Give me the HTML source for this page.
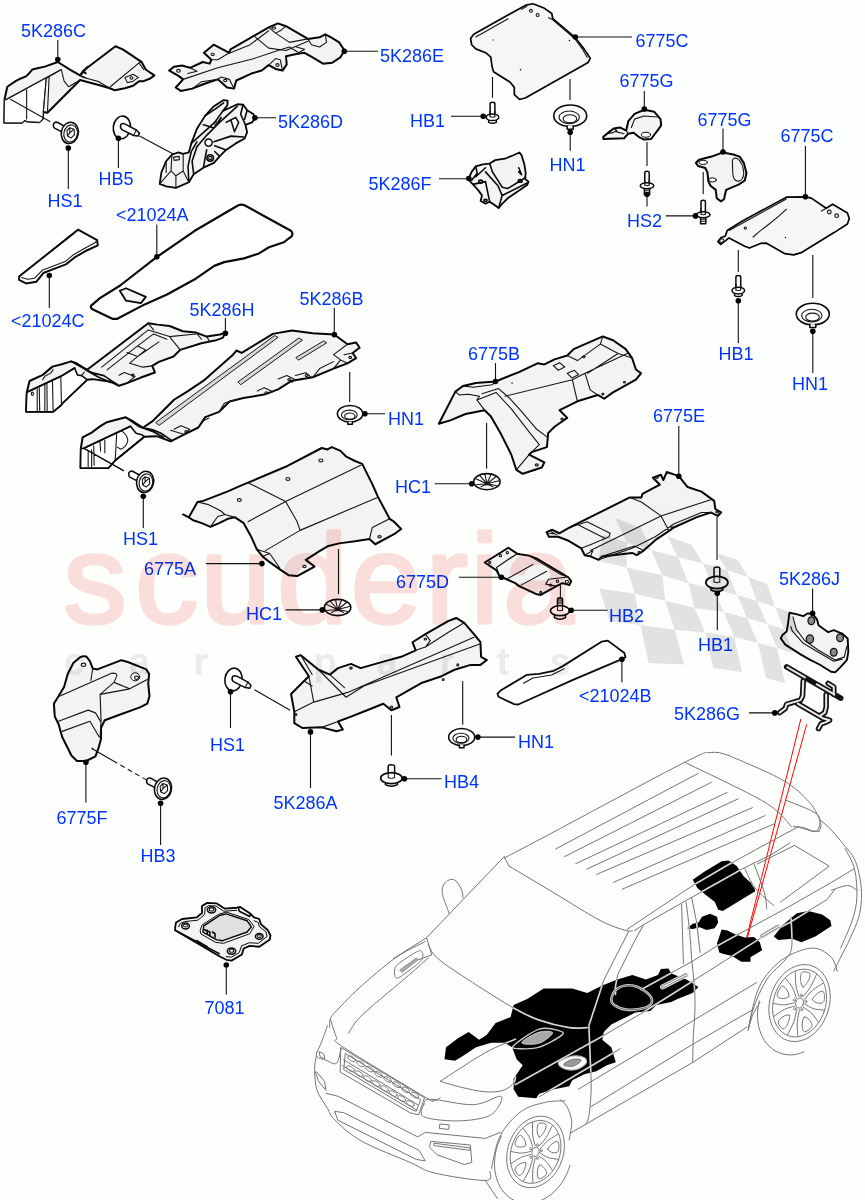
<!DOCTYPE html>
<html><head><meta charset="utf-8"><title>Body Insulators - Heat Shields</title>
<style>
html,body{margin:0;padding:0;background:#fdfffd;}
body{width:865px;height:1200px;overflow:hidden;}
svg{display:block;}
.lb{font-family:"Liberation Sans",Arial,sans-serif;font-size:18px;fill:#0033ff;}
.ln{stroke:#111;stroke-width:1.1;fill:none;}
.dot{fill:#000;}
.p{fill:#f3f3f3;stroke:#050505;stroke-width:2.0;stroke-linejoin:round;stroke-linecap:round;vector-effect:non-scaling-stroke;}
.pw{fill:#fff;stroke:#0a0a0a;stroke-width:1.5;stroke-linejoin:round;stroke-linecap:round;vector-effect:non-scaling-stroke;}
.t{fill:none;stroke:#151515;stroke-width:1.1;stroke-linejoin:round;stroke-linecap:round;vector-effect:non-scaling-stroke;}
.k{fill:none;stroke:#0a0a0a;stroke-width:1.6;stroke-linejoin:round;stroke-linecap:round;vector-effect:non-scaling-stroke;}
.car{fill:none;stroke:#757575;stroke-width:1;stroke-linejoin:round;stroke-linecap:round;vector-effect:non-scaling-stroke;}
.carw{fill:#fff;stroke:#8a8a8a;stroke-width:0.9;stroke-linejoin:round;stroke-linecap:round;vector-effect:non-scaling-stroke;}
.blk{fill:#000;stroke:none;}
.carl{fill:none;stroke:#d4d4d4;stroke-width:1.7;stroke-linejoin:round;stroke-linecap:round;}
</style></head><body>
<svg width="865" height="1200" viewBox="0 0 865 1200">
<rect width="865" height="1200" fill="#fdfffd"/>
<g id="partC" transform="translate(0 15) scale(0.20809)">
<path class="p" d="M20,518 L22,405 L35,345 L75,318 L100,305 L125,295 L140,280 L155,262 L185,255 L215,248 L278,226 L340,265 L385,290 L400,268 L555,150 L590,165 L680,225 L700,262 L742,290 L722,305 L690,318 L668,318 L640,340 L600,352 L552,362 L528,352 L470,335 L420,322 L385,312 L228,470 L208,466 L205,500 L190,515 L130,512 L120,505 L105,518 Z"/>
<path class="pw" d="M30,408 L292,264 L222,306 L208,466 L205,500 L190,515 L130,512 L120,505 L105,518 L20,518 L22,408 Z" style="stroke-width:0.8"/>
<path class="t" d="M30,405 L292,263 M222,305 L208,466 M236,298 L228,470 M295,262 L308,318 L330,345 L385,312 M340,265 L400,300 L470,318 L528,352 M385,290 L420,305 L480,322 M530,345 L668,230 L680,225 M668,230 L690,262 M600,300 L640,285 L665,300 L640,318 L612,325 Z M128,360 L128,500"/>
<ellipse class="t" cx="632" cy="303" rx="7" ry="6"/>
<path class="k" d="M385,290 L420,250 M400,272 L412,280" style="stroke-width:2"/>
<path class="t" d="M50,405 L240,512"/>
</g>
<g id="boltsC"><g transform="translate(69.8 132.9)"><path class="pw" d="M-16,-9.5 Q-17.2,-7 -15.3,-4.8 L-6,0 L-2.8,-5.2 L-12,-10.4 Q-14.6,-11.5 -16,-9.5Z"/><ellipse class="pw" cx="0" cy="0" rx="8.5" ry="10.7" transform="rotate(12)" style="stroke-width:1.6"/><ellipse class="t" cx="0.9" cy="0.4" rx="6.7" ry="8.7" transform="rotate(12)"/><path class="t" d="M-2.8,-2.4 L0,-5.2 L4.3,-3.7 L4.6,1.9 L1.3,5 L-2.4,3.1 Z M-2.4,3.1 L0,0 L4.3,-3.7 M0,0 L0,-5.2"/></g><g transform="translate(121.9 127.4)"><ellipse class="pw" cx="0" cy="0" rx="8.6" ry="11.4" transform="rotate(8)" style="stroke-width:1.6"/><path class="pw" d="M-0.9,-3 Q-2.4,0 0,2.2 L11.7,8.1 L16.3,8.7 L17.6,5.9 L14.4,2.6 L3.3,-3.3 Q0.55,-4.4 -0.9,-3 Z"/><path class="t" d="M11.7,8.1 L14.4,2.6"/></g><path class="ln" d="M139.5,136 L176,155.5"/></g>
<g id="partE" transform="translate(160 10) scale(0.23121)">
<path class="p" d="M40,262 L60,245 L95,240 L130,250 L185,225 L215,232 L222,215 L190,185 L232,150 L300,185 L305,170 L470,75 L510,58 L545,70 L640,125 L690,118 L715,105 L740,118 L775,140 L798,175 L780,205 L745,228 L705,232 L660,205 L625,185 L590,190 L545,200 L548,235 L530,262 L500,255 L470,238 L440,262 L395,275 L330,305 L320,340 L290,335 L250,300 L190,320 L140,340 L90,350 L68,335 L100,300 L80,285 Z"/>
<path class="t" d="M130,250 L160,265 L120,275 M300,185 L250,215 L222,215 M305,185 L390,150 L470,90 M410,115 L470,165 L545,175 L640,135 M100,300 L250,250 L400,212 L520,172 L560,160 M470,75 L500,100 L520,90 L545,70 M500,100 L560,140 L640,125 M250,300 L265,290 L300,300 L320,340 M470,238 L500,210 L520,215 L530,262 M560,160 L600,185 L625,170 L590,160 M640,125 L655,150 L690,160 L720,140 L715,105 M140,340 L180,310 L250,300"/>
<ellipse class="t" cx="80" cy="263" rx="8" ry="6"/><ellipse class="t" cx="228" cy="192" rx="7" ry="5"/><ellipse class="t" cx="492" cy="78" rx="8" ry="5"/><ellipse class="t" cx="282" cy="305" rx="7" ry="5"/><ellipse class="t" cx="508" cy="238" rx="7" ry="6"/>
</g>
<g id="partD" transform="translate(150 90) scale(0.16185)">
<path class="p" d="M60,580 L70,510 L100,440 L135,400 L175,385 L205,395 L240,385 L255,330 L290,240 L340,160 L395,100 L455,62 L480,65 L478,95 L450,130 L540,88 L575,90 L600,125 L640,150 L650,175 L630,200 L590,215 L600,260 L585,300 L530,330 L470,370 L430,410 L395,450 L330,480 L270,520 L240,570 L160,605 L100,595 Z" style="stroke-width:1.8"/>
<path class="k" d="M255,330 L300,290 L400,200 L450,130 M270,520 L260,440 L290,350 L350,280 L430,200 L540,100 M330,215 L395,235 L440,170 M340,160 L400,120 L455,80 M240,570 L235,470 L255,380 L290,320 M395,320 L500,285 L580,290 M400,345 L470,370 M350,370 L330,480 M430,410 L400,380"/>
<circle class="pw" cx="362" cy="325" r="22"/><circle class="k" cx="372" cy="420" r="20"/><circle class="t" cx="372" cy="420" r="10"/><circle class="t" cx="408" cy="205" r="9"/>
<path class="pw" d="M500,185 L522,258 L548,200 L530,170 Z"/>
<path class="k" d="M575,90 L560,150 L590,215 M600,125 L585,180 M470,200 L500,185"/>
<path class="t" d="M135,400 L130,500 L60,580 M130,500 L160,530 L205,500 L205,395 M160,530 L160,605 M100,440 L100,510 M205,500 L240,570 M145,415 L180,410 L182,430 L150,435 Z"/>
</g>
<g id="matA" transform="translate(85 200) scale(0.24855)">
<path class="pw" d="M25,425 L60,395 L140,345 L288,230 L440,125 L610,25 Q625,15 640,20 L830,125 Q838,135 832,145 L800,170 L740,190 L700,215 L640,235 L560,250 L520,265 L440,320 L330,380 L240,420 L130,478 L110,478 L30,440 Q20,432 25,425 Z" style="stroke-width:2.2"/>
<path class="p" d="M140,365 L165,355 L245,390 L225,415 L165,405 Z" style="stroke-width:1.8"/>
</g>
<g id="matC" transform="translate(0 195) scale(0.34682)">
<path class="pw" d="M55,235 L200,120 L225,100 L280,130 L282,145 L250,160 L215,180 L190,200 L150,215 L125,225 L105,250 L75,255 L55,245 Z" style="stroke-width:2"/>
<path class="t" d="M62,238 L80,243 L100,240 L122,217 L148,207 L188,192 L212,172 L247,152 L275,137 M275,137 L280,130"/>
</g>
<g id="partH" transform="translate(10 310) scale(0.26590)">
<path class="p" d="M60.5,382.6 L63.2,309.5 L73.6,267 L123.2,244 L159.7,213 L191,205 L230.1,193.2 L248.4,200 L290,225 L520,50 L555,55 L600,60 L650,80 L700,85 L740,100 L790,92 L810,85 L800,105 L770,115 L720,125 L640,150 L615,175 L560,195 L535,210 L545,235 L490,255 L440,275 L410,285 L380,270 L310,260 L290,262 L198.8,348.7 L191,359.1 L162.3,382.6 Z"/>
<path class="pw" d="M63.2,309.5 L191,249.5 L243.2,218.2 L253.6,244.3 L269.3,246.9 L290,262 L198.8,348.7 L191,359.1 L162.3,382.6 L60.5,382.6 Z" style="stroke-width:1.6"/>
<path class="t" d="M102.3,296.5 L102.3,380 M110.1,292.3 L111.7,380 M131,280.9 L131,380 M138.8,278.2 L139.9,380 M159.7,267.8 L162.3,382.6 M191,249.5 L193.6,356.5 M123.2,262.6 L131,249.5 L154.5,236.5 L162.3,223.5 M269.3,246.9 L279.7,233.9"/>
<path class="k" d="M230.1,193.2 L269.3,215.6 L311,236.5 L352.8,246.9 L384.1,267.8 L404.9,280.9 M248.4,200 L290.1,228.7 L331.9,252.2 L378.8,273 M63.2,309.5 L191,249.5 L243.2,218.2"/>
<path class="t" d="M345,215 L520,75 L600,100 L700,90 M520,50 L540,75 M600,100 L640,150 M365,225 L480,135 L510,150 L450,200 L500,215 L535,210 M440,160 L480,175 L560,120 M410,245 L430,235 L470,250 L440,275 M700,85 L720,110 M740,100 L750,118 M480,135 L540,90 L590,110"/>
<ellipse class="t" cx="462" cy="245" rx="5" ry="4"/><ellipse class="t" cx="84" cy="315" rx="4" ry="6"/>
</g>
<g id="partB" transform="translate(70 320) scale(0.34682)">
<path class="p" d="M30.4,426.6 L31.2,370.6 L36.4,338.6 L62.4,324.6 L86.4,306.6 L106.4,294.6 L130.4,288.6 L160.4,280.6 L182.4,292.6 L210.4,310.6 L240,290 L300,230 L340,205 L385,175 L470,100 L480,88 L495,95 L585,40 L640,30 L700,38 L762,42 L800,70 L825,65 L835,80 L815,95 L825,110 L800,125 L760,140 L700,165 L640,175 L600,200 L560,215 L500,225 L460,235 L430,265 L390,280 L370,310 L330,330 L290,350 L250,335 L214.4,336.6 L130.4,404.6 L110.4,426.6 Z"/>
<path class="pw" d="M38.4,370.6 L174.4,306.6 L190.4,326.6 L206.4,330.6 L214.4,336.6 L130.4,404.6 L110.4,426.6 L30.4,426.6 L31.2,370.6 Z" style="stroke-width:1.6"/>
<path class="t" d="M52.4,378.6 L52.4,422.6 M62.4,374.6 L62.4,422.6 M68.4,362.6 L69.6,418.6 M86.4,350.6 L88.4,378.6 M100.4,346.6 L100.4,382.6 M134.4,330.6 L130.4,402.6 M150.4,320.6 Q168,335 166.4,350.6 Q160,368 146.4,372.6 L136.4,366.6 M40.4,370.6 L154.4,434.6"/>
<path class="k" d="M210.4,310.6 L238.4,316.6 L262.4,326.6 L286.4,342.6 L294.4,348.6 M160.4,280.6 L200,308 L240,322 L270,338 M38.4,370.6 L174.4,306.6 M130.4,404.6 L214.4,336.6"/>
<path class="p" d="M248,295 L590,45 L600,50 L258,303 Z M485,178 L660,52 L670,58 L493,186 Z M652,108 L732,60 L740,66 L660,115 Z" style="stroke-width:0.9;fill:#d8d8d8"/>
<path class="t" d="M290,318 L330,330 M300,315 L320,305 L345,315 L330,330 M540,205 L560,195 L585,207 L560,215 M600,170 L625,160 L650,172 L640,180 M650,160 L680,152 L695,165 M760,140 L780,115 L800,125 M780,115 L760,100 L800,70 M790,100 L815,95 M430,265 L445,240 L470,232 M370,310 L385,290 L400,283 M700,165 L720,140 L760,120"/>
<ellipse class="t" cx="335" cy="322" rx="4" ry="3"/><ellipse class="t" cx="566" cy="210" rx="4" ry="3"/><ellipse class="t" cx="632" cy="172" rx="4" ry="3"/><ellipse class="t" cx="682" cy="160" rx="4" ry="3"/><ellipse class="t" cx="808" cy="108" rx="4" ry="3"/>
</g>
<g id="partA" transform="translate(170 435) scale(0.28902)">
<path class="p" d="M45,275 L65,285 L95,232 L115,228 L200,195 L245,175 L270,165 L400,110 L525,45 L545,50 L560,42 L590,55 L610,75 L640,90 L665,100 L700,170 L720,215 L760,290 L775,300 L800,325 L780,340 L710,378 L690,360 L640,368 L585,375 L545,385 L520,400 L470,432 L500,455 L440,488 L410,485 L380,465 L345,440 L320,420 L300,395 L280,350 L255,305 L225,285 L200,290 L170,305 L140,318 L110,305 L80,295 L65,285 Z"/>
<path class="t" d="M95,232 L130,240 L175,262 L190,275 L165,282 L140,318 M190,275 L225,285 M270,165 L400,230 L440,300 L450,330 M270,300 L400,230 L660,105 M330,400 L450,330 L720,215 M320,420 L345,410 L380,460 M345,410 L300,395 M520,400 L545,385 M760,290 L700,320 L690,360"/>
<ellipse class="t" cx="240" cy="225" rx="7" ry="5"/><ellipse class="t" cx="408" cy="152" rx="7" ry="5"/><ellipse class="t" cx="522" cy="88" rx="7" ry="5"/><ellipse class="t" cx="725" cy="352" rx="6" ry="4"/><ellipse class="t" cx="465" cy="455" rx="6" ry="4"/>
</g>
<g id="part6775B" transform="translate(435 325) scale(0.25434)">
<path class="p" d="M15,388 L80,262 L110,240 L160,228 L238,222 L330,185 L405,150 L430,155 L470,135 L520,120 L545,95 L660,45 L700,60 L750,95 L775,130 L790,175 L810,190 L790,215 L700,265 L665,290 L640,275 L560,300 L490,335 L520,365 L470,400 L445,425 L440,480 L410,490 L380,500 L370,510 L430,540 L420,560 L345,585 L320,570 L300,510 L260,430 L220,360 L195,335 L120,350 L60,375 Z"/>
<path class="k" d="M80,262 L95,275 L130,272 L175,280 L165,295 L195,335 M110,240 L150,245 L225,235 L238,222" style="stroke-width:1.1"/>
<path class="t" d="M165,295 L240,265 L300,330 L370,420 L410,470 L380,500 M185,270 L250,250 L290,285 L340,340 L400,410 L440,440 M275,280 L540,215 L590,190 L760,110 M540,215 L555,280 L560,300 M590,190 L610,255 L640,275 M520,120 L560,140 L650,75 L720,112 L600,190 M660,45 L650,75 M720,112 L775,130 M465,160 L490,148 L510,165 L485,178 Z M520,190 L548,178 L565,195 L538,208 Z M320,570 L370,510"/>
<ellipse class="t" cx="585" cy="125" rx="5" ry="4"/><ellipse class="t" cx="745" cy="225" rx="4" ry="3"/><ellipse class="t" cx="660" cy="272" rx="4" ry="3"/><ellipse class="t" cx="500" cy="370" rx="5" ry="4"/><ellipse class="t" cx="400" cy="550" rx="6" ry="4"/><circle class="dot" cx="303" cy="228" r="3"/>
</g>
<g id="part6775E" transform="translate(535 435) scale(0.23121)">
<path class="p" d="M50,420 L75,410 L105,425 L150,400 L200,375 L410,270 L460,270 L465,255 L540,215 L510,185 L545,172 L555,195 L570,160 L622,178 L660,225 L720,245 L775,285 L780,320 L805,335 L790,350 L760,335 L700,355 L600,400 L580,415 L520,455 L470,500 L440,520 L420,510 L290,525 L275,540 L240,525 L215,520 L200,490 L140,455 L100,440 L60,440 Z"/>
<path class="t" d="M240,500 L545,350 L760,280 M410,270 L460,290 L545,350 L580,415 M150,400 L225,375 L325,425 L320,440 L250,470 L200,490 M190,390 L300,445 M275,540 L420,490 L520,440 L600,385 L720,335 L760,335 M240,525 L250,500 L215,520 M290,525 L430,480 L470,500 M60,425 L90,428 M70,418 L95,432"/>
<ellipse class="t" cx="527" cy="184" rx="6" ry="4"/><ellipse class="t" cx="788" cy="333" rx="6" ry="4"/><ellipse class="t" cx="450" cy="508" rx="5" ry="4"/><ellipse class="t" cx="592" cy="400" rx="4" ry="3"/>
</g>
<g id="part6775D" transform="translate(470 535) scale(0.19653)">
<path class="p" d="M75,140 L195,65 L240,95 L255,98 L300,105 L340,120 L500,215 L515,235 L505,255 L470,245 L440,260 L360,305 L335,300 L250,260 L230,245 L175,220 L150,210 L135,180 Z"/>
<path class="t" d="M240,95 L135,165 L150,210 M215,110 L135,165 M320,150 L185,225 M390,185 L260,255 M300,105 L460,200 L500,215 M400,225 L385,250 L440,260 M400,225 L490,215"/>
<circle class="t" cx="155" cy="105" r="6"/><circle class="t" cx="190" cy="90" r="6"/><circle class="t" cx="100" cy="140" r="5"/><circle class="t" cx="410" cy="255" r="6"/><circle class="t" cx="445" cy="235" r="6"/><circle class="t" cx="360" cy="292" r="5"/><circle class="t" cx="493" cy="238" r="8"/>
</g>
<g id="part5K286A" transform="translate(215 605) scale(0.32370)">
<path class="p" d="M235,275 L275,235 L290,220 L250,160 L265,155 L320,200 L355,215 L380,195 L420,182 L450,195 L520,175 L575,160 L620,140 L610,115 L650,90 L720,50 L745,40 L770,55 L800,90 L820,115 L822,160 L840,170 L820,185 L790,185 L740,200 L700,220 L640,240 L560,285 L570,315 L545,325 L520,305 L470,325 L420,345 L380,360 L395,385 L375,390 L330,378 L270,380 L245,365 L245,330 Z"/>
<path class="t" d="M290,220 L305,300 L245,330 M305,300 L410,270 L800,100 M320,200 L405,285 L460,250 L820,120 M355,215 L400,255 M620,140 L650,130 L720,85 L770,55 M650,90 L665,110 L650,130 M380,360 L330,378 M275,235 L300,250 M265,155 L300,215"/>
<ellipse class="t" cx="650" cy="105" rx="4" ry="3"/><ellipse class="t" cx="420" cy="195" rx="4" ry="3"/><ellipse class="t" cx="750" cy="185" rx="3" ry="3"/><ellipse class="t" cx="705" cy="230" rx="3" ry="3"/><ellipse class="t" cx="545" cy="315" rx="4" ry="3"/><ellipse class="t" cx="250" cy="338" rx="3" ry="3"/>
</g>
<g id="part6775F" transform="translate(40 650) scale(0.18497)">
<path class="p" d="M215,40 Q235,30 250,35 L270,60 L285,100 L310,105 L440,55 L475,65 L575,105 L590,130 L585,180 L592,250 L580,290 L540,310 L430,350 L350,380 L330,420 L330,480 L318,525 L300,575 L250,600 L200,600 L170,570 L120,470 L100,400 L80,360 L75,290 L100,250 L130,200 L150,130 L180,70 Z"/>
<path class="t" d="M285,100 L275,165 M105,250 L390,125 Q420,125 415,140 L400,175 L325,240 L330,380 L325,470 M400,175 L485,210 L580,160 M325,240 L485,210 M100,385 L260,325 L300,340 L330,390 M120,440 L270,385 L320,470"/>
<ellipse class="t" cx="235" cy="80" rx="12" ry="9"/><ellipse class="pw" cx="515" cy="145" rx="24" ry="22" style="stroke-width:1"/><ellipse class="t" cx="522" cy="150" rx="11" ry="9"/>
<circle class="dot" cx="283" cy="533" r="5"/>
</g>
<g id="part7081" transform="translate(150 880) scale(0.17341)">
<path class="p" d="M145,275 L150,245 L185,225 L270,215 L300,190 L300,150 L330,132 L385,135 L430,165 L500,160 L520,155 L580,195 L600,215 L630,225 L640,255 L680,290 L695,320 L690,345 L630,385 L575,380 L540,395 L530,430 L470,465 L440,460 L400,440 L145,290 Z" style="stroke-width:1.8"/>
<path class="k" d="M165,270 L175,250 L200,240 L275,232 L315,200 L318,160 L338,148 L380,150 L425,180 L500,175 M600,235 L625,245 L630,268 L670,300 L675,325 L625,365 L572,362 L528,380 L515,418 L470,445 L440,442" style="stroke-width:1"/>
<path class="p" d="M310,265 L400,205 L440,195 L560,235 L585,270 L560,300 L420,350 L385,345 L305,300 Z" style="stroke-width:1.4;fill:#e0e0e0"/>
<path class="k" d="M290,290 L300,260 L395,198 L440,185 L570,228 L600,268 L575,310 L425,365 L380,360 L295,312 Z" style="stroke-width:1"/>
<path class="k" d="M310,285 L345,300 L345,320 M330,290 L330,310 M360,300 L375,310 L375,330 M510,160 L515,180 L575,210 L580,195 M145,290 L400,425 M330,385 L270,350"/>
<ellipse class="pw" cx="355" cy="172" rx="24" ry="18"/><ellipse class="t" cx="355" cy="170" rx="13" ry="9"/>
<ellipse class="pw" cx="205" cy="265" rx="22" ry="17"/><ellipse class="t" cx="205" cy="263" rx="12" ry="8"/>
<ellipse class="pw" cx="630" cy="325" rx="22" ry="17"/><ellipse class="t" cx="630" cy="323" rx="12" ry="8"/>
<ellipse class="pw" cx="470" cy="410" rx="24" ry="18"/><ellipse class="t" cx="470" cy="408" rx="13" ry="9"/>
</g>
<g id="part6775Ctop" transform="translate(455 0) scale(0.20809)">
<path class="p" d="M75,185 L90,165 L250,75 L340,25 L375,18 L430,40 L465,65 L470,90 L575,178 L620,235 L650,280 L640,300 L340,470 L310,478 L285,455 L285,420 L265,395 L185,345 L178,320 L172,275 L150,255 L100,235 L80,215 Z" style="fill:#f6f6f6;stroke-width:1.7"/>
<path class="t" d="M100,178 L255,90 M320,45 L345,30 M450,85 L470,95 L575,185 L615,240 L635,275"/>
<circle class="t" cx="365" cy="52" r="7"/><circle class="t" cx="397" cy="72" r="7"/>
<circle class="dot" cx="183" cy="192" r="3"/><circle class="dot" cx="550" cy="195" r="3.5"/><circle class="dot" cx="315" cy="335" r="4"/>
</g>
<g id="part6775G" transform="translate(595 90) scale(0.20809)">
<path class="p" d="M40,225 L70,200 L90,185 L120,180 L150,195 L160,150 L190,115 L237,95 L285,105 L315,140 L318,170 L300,195 L285,215 L270,235 L235,238 L210,225 L185,205 L160,210 L140,232 L40,235 Z"/>
<path class="t" d="M175,180 L190,140 L235,125 L300,130 M90,185 L105,195 L85,205 L60,210 M150,195 L160,210 M100,200 L140,210"/>
<ellipse class="pw" cx="245" cy="215" rx="22" ry="12" style="stroke-width:1"/>
<path class="p" d="M485,350 L500,335 L560,320 L615,300 L665,310 L695,320 L715,350 L728,400 L720,435 L690,455 L630,480 L620,525 L605,535 L585,520 L580,480 L555,460 L545,440 L540,395 L530,375 L495,365 Z"/>
<path class="t" d="M660,340 Q665,322 685,330 Q712,350 715,400 Q712,435 690,438 Q665,440 662,400 Z"/>
<ellipse class="pw" cx="520" cy="348" rx="20" ry="10" style="stroke-width:1"/><ellipse class="pw" cx="565" cy="432" rx="18" ry="10" style="stroke-width:1"/>
</g>
<g id="part6775Cright" transform="translate(705 175) scale(0.18497)">
<path class="p" d="M70,360 L85,340 L110,330 L120,300 L200,250 L440,120 L543,118 L575,125 L655,180 L690,158 L770,205 L780,235 L770,265 L700,310 L520,420 L480,432 L430,425 L330,368 L300,370 L240,395 L215,385 L130,340 L105,360 L85,375 Z" style="fill:#f6f6f6;stroke-width:1.7"/>
<path class="t" d="M260,335 Q300,300 340,270 Q400,225 440,185 M130,300 L440,130 M630,195 L655,180"/>
<circle class="t" cx="672" cy="200" r="10"/><circle class="t" cx="712" cy="220" r="10"/><circle class="dot" cx="435" cy="338" r="4"/><circle class="t" cx="218" cy="287" r="6"/>
<ellipse class="pw" cx="90" cy="355" rx="12" ry="8" transform="rotate(-40 90 355)" style="stroke-width:1"/>
</g>
<g id="part5K286F" transform="translate(430 140) scale(0.13873)">
<path class="p" d="M280,275 L300,230 L330,190 L380,175 L430,170 L470,145 L540,135 L600,110 L645,90 L660,110 L680,175 L690,240 L685,280 L710,300 L700,325 L560,420 L520,460 L495,490 L460,465 L430,445 L400,460 L365,440 L375,400 L350,365 L310,320 L290,300 Z" style="stroke-width:1.8"/>
<path class="k" d="M430,170 L450,230 L520,340 L560,350 L690,270 M330,190 L340,240 L300,290 M400,200 L330,265 M400,230 L490,330 L520,400 L495,490 M640,200 L660,250 L640,230 M520,400 L700,310 M310,320 L400,300 L430,445"/>
<ellipse class="k" cx="365" cy="300" rx="14" ry="11"/><ellipse class="k" cx="400" cy="435" rx="12" ry="8"/><ellipse class="k" cx="650" cy="295" rx="14" ry="10"/>
</g>
<g id="part5K286J" transform="translate(745 585) scale(0.13873)">
<path class="p" d="M320,200 L370,210 L420,225 L450,205 L485,205 L520,250 L530,290 L600,340 L640,325 L700,350 L740,385 L745,480 L735,540 L690,590 L650,630 L620,625 L540,575 L470,540 L400,500 L370,480 L290,430 L258,385 L270,360 L300,335 L310,280 Z" style="stroke-width:1.9"/>
<path class="t" d="M345,230 L370,320 L430,400 L530,470 L650,540 L715,520 L735,440 M330,300 L340,330 L420,420 L520,480 L640,550 L700,535"/>
<g fill="#8a8a8a" stroke="#111" stroke-width="1.3" style="vector-effect:non-scaling-stroke">
<ellipse cx="478" cy="258" rx="24" ry="28" vector-effect="non-scaling-stroke"/><ellipse cx="468" cy="390" rx="26" ry="30" vector-effect="non-scaling-stroke"/><ellipse cx="685" cy="380" rx="24" ry="28" vector-effect="non-scaling-stroke"/><ellipse cx="640" cy="485" rx="24" ry="28" vector-effect="non-scaling-stroke"/>
</g>
<g fill="none" stroke-linecap="round" stroke-linejoin="round">
<path d="M300,590 L690,815 M420,690 L415,800 L400,830 L300,860 L290,890 L250,920 M585,790 L585,880 L575,920 L545,940 M380,855 L560,960 L610,975 L580,990 L550,1000 L530,1035 M600,710 L640,735 L640,790" stroke="#111" stroke-width="5.5" vector-effect="non-scaling-stroke"/>
<path d="M420,690 L415,800 L400,830 L300,860 L290,890 L250,920 M585,790 L585,880 L575,920 L545,940 M380,855 L560,960 L610,975 L580,990 L550,1000 L530,1035 M600,710 L640,735 L640,790" stroke="#e8e8e8" stroke-width="2" vector-effect="non-scaling-stroke"/>
<path d="M300,590 L690,815" stroke="#e0e0e0" stroke-width="2.2" stroke-dasharray="22 12" stroke-linecap="butt" vector-effect="non-scaling-stroke"/>
</g>
</g>
<g id="redlines" stroke="#f00" stroke-width="1" fill="none"><path d="M800.9,718.9 L746.7,937.3 M806.7,724.4 L747.5,937.3"/></g>
<g id="mat21024B" transform="translate(485 625) scale(0.20809)">
<path class="pw" d="M60,330 L75,315 L200,240 L260,235 L330,220 L370,200 L560,80 L590,75 L670,135 L675,155 L655,165 L420,265 L160,382 L140,380 L65,345 Z" style="stroke-width:1.8"/>
<path class="t" d="M185,280 L230,255 L320,240 L380,210"/>
</g>
<g id="car">
<clipPath id="blobclip"><path d="M444.5,1059.2 L446.0,1047.2 L458.0,1038.2 L468.6,1032.1 L479.1,1039.7 L486.6,1035.1 L495.6,1023.1 L510.6,1017.1 L513.6,1005.1 L527.2,999.1 L543.7,988.6 L572.3,988.6 L587.3,993.1 L602.3,985.5 L617.3,979.5 L632.4,975.0 L645.9,979.5 L657.9,975.0 L660.9,969.0 L668.4,968.4 L671.4,973.5 L686.5,979.5 L698.5,987.1 L692.5,993.1 L677.5,999.1 L671.4,1002.1 L656.4,1005.1 L650.4,1011.1 L635.4,1012.6 L620.3,1020.1 L611.3,1024.6 L603.8,1032.1 L602.3,1039.7 L611.3,1047.2 L615.8,1062.2 L606.8,1065.2 L596.3,1071.2 L584.3,1074.2 L572.3,1080.2 L569.2,1086.2 L554.2,1089.2 L539.2,1093.8 L536.2,1098.3 L518.2,1096.8 L513.6,1089.2 L513.6,1078.7 L522.7,1065.2 L516.6,1059.2 L512.1,1047.2 L504.6,1042.7 L491.1,1042.7 L476.1,1047.2 L462.5,1056.2 L455.0,1060.7Z M692.7,879.8 L704.3,871.7 L721.6,861.3 L728.6,860.6 L736.7,865.9 L743.6,876.3 L754.0,885.5 L755.2,891.3 L722.8,911.0 L718.2,909.8 L714.7,901.7 L705.5,894.8 L697.4,887.9Z M687.0,928.3 L692.7,923.7 L698.5,922.5 L702.0,916.8 L710.1,913.8 L717.0,916.8 L718.2,922.5 L714.7,928.3 L706.6,929.9 L699.7,927.2 L692.7,929.0Z M717.0,943.4 L721.6,929.5 L727.4,930.6 L734.4,934.1 L744.8,937.6 L754.0,936.9 L759.8,942.2 L762.1,950.3 L750.5,957.2 L750.5,961.8 L741.3,961.8 L732.1,956.1 L722.8,953.8 L719.3,952.6Z M773.7,936.4 L782.9,924.9 L796.8,913.3 L808.4,911.0 L822.2,914.5 L830.3,920.2 L831.5,926.0 L815.3,936.4 L801.4,942.2 L792.2,938.7 L778.3,939.9Z"/></clipPath>
<path class="car" style="vector-effect:none" d="M504.5,857.9 C511.5,854.2 516.7,851.6 546.8,835.7 C576.8,819.7 657.3,776.1 684.7,762.3 C712.2,748.4 704.0,753.6 711.4,752.5 C718.9,751.3 726.3,755.1 729.2,755.6 M729.2,755.6 C738.2,759.7 769.3,772.3 782.7,780.1 C796.0,787.8 803.1,795.3 809.4,802.3 C815.7,809.4 818.9,817.5 820.5,822.3 C822.1,827.2 819.4,829.8 819.2,831.2 M798.2,826.8 L811.6,831.2 L819.2,831.2 M684.7,762.3 C698.1,768.9 747.1,791.6 764.9,802.3 C782.7,813.1 787.1,822.7 791.6,826.8 M555.7,849.0 L698.1,773.4 M564.6,856.6 L711.4,782.3 M575.7,863.7 L727.0,792.5 M586.8,869.1 L738.2,798.8 M596.6,874.4 L752.4,807.7 M613.5,882.4 L764.9,815.7 M622.4,889.1 L774.6,823.7 M449.1,913.4 C448.0,909.9 442.8,897.8 442.2,892.6 C441.6,887.4 443.6,884.3 445.7,882.2 C447.7,880.1 451.7,878.6 454.3,879.8 C456.9,880.9 459.8,886.1 461.3,889.1 C462.7,892.1 462.7,896.4 463.0,897.8 M426.6,937.7 L431.8,955.0 L417.9,959.9 M425.2,941.5 C420.2,944.3 406.2,950.3 395.2,958.0 C384.2,965.8 368.6,979.6 359.1,988.1 C349.6,996.6 342.8,1004.1 338.1,1009.1 C333.3,1014.1 332.0,1015.1 330.5,1018.2 C329.1,1021.2 329.8,1025.7 329.6,1027.2 M330.5,1019.7 C331.6,1022.7 334.6,1033.2 336.6,1037.7 C338.6,1042.2 328.0,1036.9 342.6,1046.7 C357.1,1056.5 408.7,1087.3 423.7,1096.3 C438.8,1105.3 430.0,1100.6 432.7,1100.8 C435.5,1101.1 439.0,1098.3 440.3,1097.8 M440.3,1081.3 C443.8,1082.3 453.8,1085.5 461.3,1087.3 C468.8,1089.0 478.3,1091.3 485.3,1091.8 C492.4,1092.3 498.6,1091.8 503.4,1090.3 C508.1,1088.8 511.9,1085.0 513.9,1082.8 C515.9,1080.5 515.2,1077.8 515.4,1076.8 M348.6,1033.2 C350.8,1030.2 352.8,1024.2 362.1,1015.1 C371.4,1006.1 393.2,988.6 404.2,979.1 C415.2,969.6 424.2,961.5 428.2,958.0 M428.2,944.5 C429.7,946.8 430.7,952.3 437.3,958.0 C443.8,963.8 454.3,970.6 467.3,979.1 C480.3,987.6 503.4,1002.3 515.4,1009.1 C527.4,1016.0 530.2,1017.0 539.2,1020.1 C548.1,1023.2 561.2,1026.3 569.2,1027.6 C577.2,1028.8 584.2,1027.6 587.2,1027.6 M440.3,1081.3 C447.8,1076.5 472.8,1059.7 485.3,1052.7 C497.9,1045.7 510.4,1041.4 515.4,1039.2 M394.6,970.1 C395.0,967.8 394.6,967.1 398.2,964.0 C401.8,961.0 412.3,954.1 416.2,952.0 C420.1,949.9 420.5,950.7 421.6,951.4 C422.7,952.2 423.2,954.7 422.8,956.5 C422.4,958.4 422.8,959.3 419.2,962.5 C415.6,965.8 405.1,973.6 401.2,976.1 C397.3,978.6 396.9,978.6 395.8,977.6 C394.7,976.6 394.2,972.3 394.6,970.1Z M327.5,1025.7 C326.5,1028.4 323.4,1037.2 321.5,1042.2 C319.7,1047.2 315.7,1052.7 316.4,1055.7 C317.2,1058.7 322.7,1059.0 326.0,1060.2 C329.4,1061.5 334.1,1065.2 336.6,1063.2 C339.1,1061.2 340.3,1050.7 341.1,1048.2 M341.1,1047.6 L424.6,1097.8 L418.6,1114.9 L410.2,1112.8 L340.5,1072.3Z M345.6,1053.6 L420.7,1099.9 L416.2,1111.3 L410.2,1108.9 L344.1,1069.8Z M343.5,1059.6 L418.6,1105.3 M342.3,1065.6 L416.8,1110.1 M316.4,1055.7 C316.1,1058.0 314.5,1063.5 314.6,1069.2 C314.7,1075.0 314.9,1083.8 317.0,1090.3 C319.2,1096.8 324.5,1103.3 327.5,1108.3 C330.5,1113.3 329.3,1114.8 335.1,1120.3 C340.8,1125.9 349.6,1134.4 362.1,1141.4 C374.6,1148.4 398.2,1157.2 410.2,1162.4 C422.2,1167.7 421.7,1169.9 434.2,1172.9 C446.8,1176.0 476.1,1180.7 485.3,1180.5 C494.6,1180.2 489.1,1172.9 489.9,1171.4 M326.0,1093.3 L338.1,1096.3 L417.7,1136.9 L425.2,1132.4 L485.3,1138.4 L500.4,1132.4 M335.1,1111.3 L344.1,1112.8 L419.2,1150.4 L425.2,1160.9 L416.2,1159.4 L338.1,1120.3Z M423.7,1104.7 C425.0,1101.8 423.0,1099.3 431.2,1099.3 C439.5,1099.3 461.8,1105.2 473.3,1104.7 C484.8,1104.2 496.4,1095.7 500.4,1096.3 C504.4,1096.9 499.9,1104.8 497.4,1108.3 C494.9,1111.8 492.4,1115.2 485.3,1117.3 C478.3,1119.4 465.6,1121.0 455.3,1120.9 C445.0,1120.8 429.0,1119.4 423.7,1116.7 C418.5,1114.0 422.5,1107.6 423.7,1104.7Z M431.2,1141.4 L470.3,1145.0 L471.8,1162.4 L464.3,1164.5 L437.3,1154.9 L429.7,1147.4Z M434.2,1143.2 L470.3,1148.0 L470.3,1150.4 L434.2,1145.6Z M440.3,1124.0 L449.3,1124.9 L448.7,1129.4 L439.7,1128.5Z M315.5,1072.3 L318.5,1081.3 L326.0,1090.3 L324.5,1081.3 L317.0,1072.3Z M319.4,1051.8 L323.6,1053.6 L324.8,1058.7 L320.6,1057.2Z M485.3,1180.5 L497.4,1198.5 M491.4,1168.4 C492.9,1162.9 495.4,1144.9 500.4,1135.4 C505.4,1125.9 513.9,1116.8 521.4,1111.3 C528.9,1105.8 538.2,1104.1 545.5,1102.3 C552.7,1100.6 561.7,1101.1 565.0,1100.8 M504.6,857.5 L509.0,866.0 M509.0,866.0 C516.7,870.6 539.8,884.4 555.0,893.5 C570.2,902.6 588.3,914.3 600.0,920.4 C611.7,926.5 619.7,928.6 625.1,930.3 C630.5,932.0 631.3,930.6 632.5,930.7 M504.6,856.2 L426.6,937.7 L393.6,958.5 M627.0,929.4 L693.6,885.0 L726.9,865.5 L755.2,850.0 L798.2,826.8 M634.4,930.7 L643.6,924.7 L703.8,890.5 L741.7,869.2 L771.4,854.6 L790.0,843.0 M628.8,931.2 L614.0,959.9 L603.9,980.0 L588.9,1025.5 M643.6,924.7 L634.4,941.4 L617.7,974.7 L615.5,986.2 L615.5,994.3 M686.2,902.5 C686.8,907.8 689.0,924.4 689.9,934.0 C690.8,943.6 691.0,951.7 691.7,959.9 C692.4,968.1 693.7,975.4 694.2,983.4 C694.8,991.4 695.1,999.1 695.0,1007.7 C694.9,1016.3 693.8,1026.0 693.4,1035.2 C693.0,1044.4 692.7,1058.1 692.6,1062.7 M681.6,904.4 L682.5,934.0 L683.4,963.6 M691.7,897.9 L696.4,921.0 L700.1,952.5 M640.9,989.7 L693.4,960.7 L717.0,946.0 L791.0,905.5 L831.5,882.4 L854.6,868.5 M515.1,1084.7 L599.3,1038.0 L640.0,1014.2 L694.2,980.2 L759.8,938.6 L791.0,921.7 L826.8,899.7 L835.0,889.3 M578.5,1089.1 L694.2,1020.0 L756.5,982.6 M591.2,1106.5 L694.0,1043.5 L753.3,1009.3 M570.4,1133.1 L693.5,1062.0 L746.8,1027.1 M588.9,1026.7 C589.1,1031.5 589.7,1045.4 590.1,1055.6 C590.4,1065.8 591.4,1078.0 591.2,1088.0 C591.0,1098.0 589.9,1109.6 588.9,1115.7 C587.9,1121.9 586.0,1123.4 585.4,1125.0 M539.2,1096.8 L620.3,1048.7 M748.4,1029.0 C749.2,1026.5 751.1,1018.4 753.1,1014.0 C755.0,1009.6 758.8,1004.4 760.0,1002.4 M560.0,1099.5 C561.2,1100.7 565.0,1103.0 566.9,1106.5 C568.9,1109.9 571.0,1115.9 571.6,1120.3 C572.1,1124.8 570.8,1129.8 570.4,1133.1 C570.0,1136.3 569.4,1138.8 569.2,1140.0 M754.0,863.9 C755.8,868.7 762.3,885.3 764.4,892.8 C766.5,900.3 766.3,906.3 766.7,909.0 M744.8,868.5 C746.5,871.8 750.4,882.0 755.2,888.2 C760.0,894.3 770.6,902.6 773.7,905.5 M757.5,863.9 L794.5,845.4 M780.6,902.0 L829.2,866.2 L794.5,845.4 M791.0,917.1 C791.1,922.1 792.7,940.0 791.7,947.1 C790.7,954.2 789.4,954.4 785.2,959.8 C781.1,965.2 772.1,971.2 766.7,979.5 C761.3,987.8 755.9,1001.1 752.9,1009.5 C749.8,1018.0 749.0,1026.9 748.2,1030.3 M748.2,1030.3 C749.8,1023.8 753.2,1001.6 757.5,991.0 C761.7,980.4 767.5,973.1 773.7,966.8 C779.8,960.4 787.5,956.0 794.5,952.9 C801.4,949.8 809.1,947.5 815.3,948.3 C821.5,949.0 827.8,953.7 831.5,957.5 C835.1,961.4 836.3,969.1 837.3,971.4 M785.2,800.0 C789.9,801.9 807.2,808.3 813.0,811.6 C818.8,814.8 819.3,816.4 819.9,819.7 C820.5,822.9 819.1,829.9 816.4,831.2 C813.7,832.6 807.6,828.5 803.7,827.7 C799.9,827.0 795.1,826.8 793.3,826.6 M819.9,819.7 C821.8,821.4 827.6,826.0 831.5,830.1 C835.3,834.1 839.6,839.7 843.0,843.9 C846.5,848.2 849.8,851.3 852.3,855.5 C854.8,859.7 856.5,863.2 858.1,869.4 C859.6,875.5 861.3,884.8 861.5,892.5 C861.7,900.2 861.1,907.9 859.2,915.6 C857.3,923.3 853.1,931.8 850.0,938.7 C846.9,945.7 843.4,951.8 840.7,957.2 C838.0,962.6 834.9,968.8 833.8,971.1 M845.3,848.6 C846.9,852.0 852.7,861.3 854.6,869.4 C856.5,877.5 857.3,888.6 856.9,897.1 C856.5,905.6 855.0,911.8 852.3,920.2 C849.6,928.7 842.6,943.4 840.7,948.0 M831.5,890.2 C834.2,889.4 843.4,885.5 847.7,885.5 C851.9,885.5 855.4,889.4 856.9,890.2 M561.5,1161.4 C560.6,1163.9 559.4,1166.5 558.1,1168.8 C556.8,1171.1 555.2,1173.4 553.5,1175.4 C551.8,1177.4 550.0,1179.2 548.0,1180.8 C546.1,1182.3 544.0,1183.7 541.9,1184.7 C539.9,1185.8 537.7,1186.6 535.5,1187.1 C533.4,1187.5 531.2,1187.7 529.1,1187.6 C527.0,1187.5 524.9,1187.1 523.0,1186.4 C521.1,1185.7 519.2,1184.7 517.5,1183.4 C515.9,1182.1 514.3,1180.6 513.0,1178.9 C511.6,1177.1 510.5,1175.1 509.5,1173.0 C508.6,1170.8 507.9,1168.4 507.4,1166.0 C506.9,1163.6 506.7,1160.9 506.7,1158.3 C506.7,1155.7 506.9,1153.0 507.4,1150.4 C507.9,1147.7 508.6,1145.0 509.6,1142.4 C510.5,1139.9 511.7,1137.4 513.0,1135.0 C514.3,1132.7 515.9,1130.4 517.6,1128.4 C519.2,1126.4 521.1,1124.6 523.0,1123.0 C525.0,1121.5 527.1,1120.1 529.1,1119.1 C531.2,1118.0 533.4,1117.2 535.6,1116.8 C537.7,1116.3 539.9,1116.1 542.0,1116.2 C544.1,1116.3 546.2,1116.7 548.1,1117.4 C550.0,1118.2 551.9,1119.2 553.6,1120.4 C555.2,1121.7 556.8,1123.2 558.1,1125.0 C559.5,1126.7 560.6,1128.7 561.6,1130.9 C562.5,1133.0 563.2,1135.4 563.7,1137.8 C564.2,1140.3 564.4,1142.9 564.4,1145.5 C564.4,1148.1 564.1,1150.8 563.7,1153.5 C563.2,1156.1 562.5,1158.8 561.5,1161.4Z M558.4,1160.2 C557.6,1162.5 556.6,1164.7 555.4,1166.8 C554.2,1168.8 552.8,1170.8 551.4,1172.6 C549.9,1174.3 548.2,1175.9 546.5,1177.3 C544.8,1178.7 543.0,1179.9 541.2,1180.8 C539.3,1181.7 537.4,1182.4 535.5,1182.8 C533.6,1183.3 531.7,1183.4 529.9,1183.3 C528.0,1183.2 526.2,1182.8 524.5,1182.2 C522.8,1181.6 521.2,1180.7 519.7,1179.6 C518.2,1178.5 516.9,1177.1 515.7,1175.6 C514.5,1174.1 513.5,1172.3 512.7,1170.4 C511.8,1168.5 511.2,1166.5 510.8,1164.3 C510.4,1162.2 510.2,1159.9 510.2,1157.6 C510.2,1155.3 510.4,1152.9 510.8,1150.5 C511.2,1148.2 511.9,1145.8 512.7,1143.6 C513.5,1141.3 514.5,1139.1 515.7,1137.0 C516.9,1135.0 518.3,1133.0 519.7,1131.3 C521.2,1129.5 522.8,1127.9 524.5,1126.5 C526.2,1125.1 528.1,1123.9 529.9,1123.0 C531.8,1122.1 533.7,1121.4 535.6,1121.0 C537.4,1120.6 539.4,1120.4 541.2,1120.5 C543.1,1120.6 544.9,1121.0 546.6,1121.6 C548.3,1122.2 549.9,1123.1 551.4,1124.2 C552.9,1125.3 554.2,1126.7 555.4,1128.2 C556.6,1129.7 557.6,1131.5 558.4,1133.4 C559.2,1135.3 559.9,1137.4 560.3,1139.5 C560.7,1141.7 560.9,1144.0 560.9,1146.2 C560.9,1148.5 560.7,1150.9 560.3,1153.3 C559.9,1155.6 559.2,1158.0 558.4,1160.2Z M538.9,1153.1 C538.6,1154.0 538.0,1155.0 537.3,1155.5 C536.7,1156.1 535.8,1156.5 535.0,1156.5 C534.3,1156.6 533.5,1156.3 532.9,1155.8 C532.4,1155.3 532.0,1154.4 531.9,1153.5 C531.7,1152.7 531.8,1151.6 532.2,1150.7 C532.5,1149.8 533.1,1148.8 533.8,1148.3 C534.4,1147.7 535.3,1147.3 536.1,1147.3 C536.8,1147.2 537.6,1147.5 538.1,1148.0 C538.7,1148.5 539.1,1149.4 539.2,1150.3 C539.4,1151.1 539.2,1152.3 538.9,1153.1Z M540.4,1153.1 C541.7,1153.9 545.2,1156.5 548.2,1157.6 C551.1,1158.6 556.5,1159.0 558.2,1159.3 M538.9,1156.0 C540.1,1156.9 543.9,1159.1 546.2,1161.4 C548.4,1163.8 551.4,1168.8 552.4,1170.3 M539.3,1165.1 C540.6,1164.3 543.6,1167.0 544.7,1168.6 C545.9,1170.1 547.1,1172.8 546.2,1174.5 C545.2,1176.2 540.7,1179.1 539.2,1178.9 C537.7,1178.6 537.3,1175.5 537.3,1173.2 C537.3,1170.9 538.1,1165.9 539.3,1165.1Z M538.3,1158.5 C538.2,1158.8 537.9,1159.1 537.7,1159.3 C537.5,1159.4 537.1,1159.5 536.9,1159.4 C536.7,1159.3 536.5,1159.1 536.4,1158.8 C536.3,1158.5 536.3,1158.1 536.4,1157.8 C536.5,1157.6 536.8,1157.2 537.0,1157.1 C537.2,1156.9 537.6,1156.9 537.8,1157.0 C538.0,1157.1 538.2,1157.3 538.3,1157.6 C538.4,1157.8 538.4,1158.2 538.3,1158.5Z M535.2,1158.3 C534.8,1160.2 533.2,1165.7 532.8,1169.8 C532.4,1173.8 532.8,1180.4 532.8,1182.6 M532.8,1157.9 C532.2,1159.8 531.1,1165.4 529.5,1169.2 C528.0,1173.1 524.4,1179.0 523.4,1181.0 M525.8,1162.8 C526.5,1163.9 524.8,1168.8 523.8,1170.9 C522.7,1173.1 520.8,1175.8 519.3,1175.6 C517.9,1175.3 515.0,1171.2 515.0,1169.3 C515.0,1167.4 517.4,1165.4 519.2,1164.3 C521.0,1163.2 525.0,1161.7 525.8,1162.8Z M531.8,1157.4 C531.7,1157.7 531.4,1158.0 531.2,1158.2 C531.0,1158.3 530.7,1158.4 530.4,1158.3 C530.2,1158.2 530.0,1158.0 529.9,1157.7 C529.9,1157.5 529.9,1157.1 530.0,1156.8 C530.1,1156.5 530.3,1156.2 530.6,1156.0 C530.8,1155.9 531.1,1155.8 531.3,1155.9 C531.5,1156.0 531.8,1156.2 531.8,1156.5 C531.9,1156.7 531.9,1157.2 531.8,1157.4Z M530.5,1154.6 C529.0,1155.1 524.4,1155.8 521.2,1157.3 C518.0,1158.8 512.9,1162.4 511.2,1163.5 M530.5,1151.5 C529.0,1151.8 524.4,1153.1 521.2,1153.1 C518.0,1153.1 512.9,1151.7 511.2,1151.5 M525.7,1145.5 C524.9,1146.9 520.9,1147.3 519.1,1147.0 C517.3,1146.8 514.9,1145.8 514.9,1143.9 C514.9,1142.1 517.7,1136.7 519.2,1135.7 C520.7,1134.8 522.6,1136.7 523.7,1138.3 C524.7,1139.9 526.5,1144.0 525.7,1145.5Z M531.8,1149.2 C531.7,1149.5 531.4,1149.8 531.2,1149.9 C531.0,1150.1 530.6,1150.1 530.4,1150.1 C530.2,1150.0 530.0,1149.7 529.9,1149.5 C529.8,1149.2 529.8,1148.8 530.0,1148.5 C530.1,1148.2 530.3,1147.9 530.5,1147.8 C530.8,1147.6 531.1,1147.6 531.3,1147.6 C531.5,1147.7 531.7,1148.0 531.8,1148.2 C531.9,1148.5 531.9,1148.9 531.8,1149.2Z M532.7,1147.2 C532.2,1145.6 531.0,1140.5 529.4,1137.4 C527.8,1134.2 524.3,1129.9 523.3,1128.4 M535.2,1145.7 C534.8,1143.9 533.1,1139.2 532.7,1135.3 C532.3,1131.5 532.6,1124.7 532.6,1122.5 M539.2,1137.0 C538.0,1136.8 537.2,1132.1 537.2,1129.8 C537.1,1127.6 537.5,1124.2 539.0,1123.3 C540.5,1122.4 545.1,1123.2 546.0,1124.5 C546.9,1125.8 545.7,1129.0 544.6,1131.1 C543.5,1133.2 540.5,1137.2 539.2,1137.0Z M538.2,1145.2 C538.1,1145.4 537.9,1145.8 537.6,1145.9 C537.4,1146.1 537.1,1146.1 536.9,1146.0 C536.7,1145.9 536.4,1145.7 536.4,1145.4 C536.3,1145.2 536.3,1144.8 536.4,1144.5 C536.5,1144.2 536.7,1143.9 537.0,1143.7 C537.2,1143.6 537.5,1143.5 537.7,1143.6 C538.0,1143.7 538.2,1143.9 538.3,1144.2 C538.3,1144.5 538.3,1144.9 538.2,1145.2Z M538.8,1146.3 C540.0,1144.8 543.8,1141.0 546.1,1137.5 C548.3,1134.1 551.2,1127.8 552.2,1125.8 M540.4,1148.5 C541.7,1147.1 545.2,1142.9 548.1,1140.5 C551.1,1138.1 556.4,1135.2 558.1,1134.2 M547.7,1149.1 C547.7,1147.5 551.2,1144.3 553.0,1143.2 C554.8,1142.0 557.4,1140.9 558.3,1142.2 C559.2,1143.5 559.2,1149.4 558.3,1151.2 C557.5,1152.9 554.8,1153.0 553.0,1152.7 C551.2,1152.3 547.7,1150.7 547.7,1149.1Z M542.2,1150.9 C542.1,1151.2 541.9,1151.5 541.6,1151.7 C541.4,1151.8 541.1,1151.9 540.9,1151.8 C540.7,1151.7 540.4,1151.5 540.4,1151.2 C540.3,1150.9 540.3,1150.5 540.4,1150.3 C540.5,1150.0 540.8,1149.6 541.0,1149.5 C541.2,1149.4 541.5,1149.3 541.8,1149.4 C542.0,1149.5 542.2,1149.7 542.3,1150.0 C542.3,1150.2 542.3,1150.6 542.2,1150.9Z M570.0,1165.3 C569.4,1166.9 567.9,1171.8 566.4,1174.8 C565.0,1177.9 563.2,1180.8 561.3,1183.5 C559.4,1186.2 557.2,1188.8 554.9,1191.0 C552.6,1193.3 550.1,1195.3 547.6,1196.9 C545.0,1198.6 542.3,1200.0 539.6,1201.1 C536.9,1202.1 534.1,1202.8 531.3,1203.1 C528.6,1203.5 525.8,1203.5 523.2,1203.1 C520.5,1202.8 517.9,1202.0 515.5,1201.0 C513.0,1200.0 510.7,1198.6 508.6,1196.9 C506.5,1195.2 504.5,1193.2 502.8,1190.9 C501.1,1188.7 499.6,1186.1 498.4,1183.4 C497.2,1180.7 496.3,1177.7 495.6,1174.7 C495.0,1171.6 494.6,1168.4 494.5,1165.1 C494.4,1161.9 494.7,1158.5 495.2,1155.2 C495.7,1151.9 496.5,1148.5 497.5,1145.3 C498.6,1142.1 500.9,1137.5 501.5,1135.9 M827.7,1012.2 C826.8,1015.0 825.6,1017.7 824.3,1020.3 C823.0,1022.9 821.4,1025.3 819.7,1027.5 C817.9,1029.7 816.0,1031.8 814.0,1033.5 C812.0,1035.3 809.8,1036.8 807.6,1038.0 C805.4,1039.2 803.1,1040.1 800.8,1040.7 C798.6,1041.3 796.2,1041.6 794.0,1041.5 C791.8,1041.5 789.5,1041.1 787.4,1040.4 C785.3,1039.8 783.3,1038.8 781.5,1037.5 C779.6,1036.2 777.9,1034.6 776.4,1032.8 C774.9,1031.0 773.6,1028.8 772.5,1026.6 C771.5,1024.3 770.6,1021.8 770.0,1019.2 C769.4,1016.6 769.0,1013.8 768.9,1011.0 C768.8,1008.3 769.0,1005.3 769.4,1002.5 C769.8,999.6 770.5,996.7 771.4,993.9 C772.3,991.1 773.5,988.4 774.8,985.8 C776.2,983.3 777.8,980.8 779.5,978.6 C781.2,976.4 783.1,974.4 785.1,972.6 C787.1,970.9 789.3,969.3 791.5,968.1 C793.7,966.9 796.0,966.0 798.3,965.4 C800.6,964.8 802.9,964.5 805.1,964.6 C807.4,964.6 809.6,965.0 811.7,965.7 C813.8,966.4 815.8,967.4 817.7,968.7 C819.5,969.9 821.2,971.5 822.7,973.4 C824.2,975.2 825.5,977.3 826.6,979.5 C827.7,981.8 828.5,984.3 829.1,986.9 C829.7,989.5 830.1,992.3 830.2,995.1 C830.3,997.9 830.1,1000.8 829.7,1003.7 C829.3,1006.5 828.6,1009.4 827.7,1012.2Z M824.3,1011.1 C823.5,1013.6 822.5,1016.0 821.3,1018.2 C820.2,1020.5 818.8,1022.6 817.2,1024.6 C815.7,1026.5 814.0,1028.3 812.3,1029.9 C810.5,1031.4 808.6,1032.7 806.7,1033.8 C804.7,1034.9 802.7,1035.7 800.7,1036.2 C798.7,1036.7 796.6,1037.0 794.7,1036.9 C792.7,1036.9 790.7,1036.6 788.9,1036.0 C787.0,1035.4 785.2,1034.5 783.6,1033.3 C782.0,1032.2 780.5,1030.8 779.2,1029.2 C777.9,1027.6 776.7,1025.8 775.8,1023.8 C774.8,1021.8 774.1,1019.6 773.5,1017.3 C773.0,1015.0 772.7,1012.5 772.6,1010.1 C772.5,1007.6 772.7,1005.0 773.0,1002.5 C773.4,1000.0 774.0,997.5 774.8,995.0 C775.6,992.6 776.6,990.1 777.8,987.9 C779.0,985.7 780.4,983.5 781.9,981.5 C783.4,979.6 785.1,977.8 786.9,976.3 C788.6,974.7 790.5,973.4 792.5,972.3 C794.4,971.3 796.5,970.5 798.4,969.9 C800.4,969.4 802.5,969.2 804.5,969.2 C806.4,969.2 808.4,969.6 810.3,970.2 C812.1,970.8 813.9,971.7 815.5,972.8 C817.1,973.9 818.6,975.3 819.9,976.9 C821.3,978.5 822.4,980.4 823.4,982.4 C824.3,984.3 825.1,986.6 825.6,988.8 C826.1,991.1 826.4,993.6 826.5,996.0 C826.6,998.5 826.5,1001.1 826.1,1003.6 C825.7,1006.1 825.1,1008.7 824.3,1011.1Z M803.2,1004.3 C802.9,1005.2 802.3,1006.2 801.6,1006.9 C800.9,1007.5 800.0,1008.0 799.2,1008.1 C798.4,1008.1 797.5,1007.8 796.9,1007.3 C796.3,1006.8 795.8,1005.9 795.7,1005.0 C795.5,1004.1 795.6,1002.8 795.9,1001.9 C796.2,1000.9 796.9,999.9 797.5,999.2 C798.2,998.6 799.2,998.1 799.9,998.1 C800.7,998.0 801.6,998.3 802.2,998.8 C802.8,999.3 803.3,1000.3 803.5,1001.2 C803.6,1002.1 803.5,1003.3 803.2,1004.3Z M804.8,1004.2 C806.2,1004.9 810.1,1007.7 813.3,1008.6 C816.5,1009.6 822.2,1009.9 824.0,1010.1 M803.3,1007.3 C804.6,1008.3 808.8,1010.4 811.3,1012.9 C813.8,1015.3 817.1,1020.6 818.3,1022.1 M804.1,1017.0 C805.4,1016.2 808.7,1018.9 810.0,1020.6 C811.3,1022.2 812.7,1025.0 811.8,1026.8 C810.8,1028.7 806.0,1032.0 804.5,1031.8 C802.9,1031.6 802.3,1028.3 802.2,1025.8 C802.2,1023.3 802.8,1017.9 804.1,1017.0Z M802.7,1010.0 C802.6,1010.3 802.4,1010.7 802.1,1010.9 C801.9,1011.0 801.5,1011.1 801.3,1011.0 C801.1,1010.9 800.8,1010.7 800.7,1010.4 C800.6,1010.1 800.6,1009.7 800.7,1009.4 C800.8,1009.1 801.1,1008.7 801.3,1008.6 C801.6,1008.4 801.9,1008.3 802.2,1008.4 C802.4,1008.5 802.6,1008.7 802.7,1009.0 C802.8,1009.3 802.8,1009.7 802.7,1010.0Z M799.5,1009.9 C799.1,1012.0 797.6,1018.0 797.3,1022.3 C797.0,1026.6 797.7,1033.7 797.8,1036.0 M796.8,1009.6 C796.3,1011.6 795.3,1017.7 793.8,1021.8 C792.2,1026.0 788.7,1032.5 787.7,1034.7 M789.5,1015.1 C790.4,1016.3 788.7,1021.6 787.7,1023.9 C786.6,1026.2 784.7,1029.2 783.1,1029.0 C781.5,1028.8 778.3,1024.5 778.2,1022.5 C778.1,1020.5 780.6,1018.2 782.5,1017.0 C784.4,1015.7 788.6,1014.0 789.5,1015.1Z M795.8,1009.1 C795.7,1009.4 795.4,1009.8 795.2,1010.0 C794.9,1010.1 794.6,1010.2 794.4,1010.1 C794.1,1010.0 793.9,1009.8 793.8,1009.5 C793.7,1009.2 793.7,1008.8 793.8,1008.5 C793.9,1008.2 794.1,1007.8 794.4,1007.7 C794.6,1007.5 795.0,1007.4 795.2,1007.5 C795.4,1007.6 795.7,1007.8 795.8,1008.1 C795.9,1008.4 795.9,1008.8 795.8,1009.1Z M794.3,1006.2 C792.6,1006.7 787.8,1007.7 784.5,1009.4 C781.1,1011.1 775.7,1015.2 774.0,1016.4 M794.2,1002.8 C792.5,1003.2 787.7,1004.7 784.3,1004.9 C780.8,1005.0 775.3,1003.7 773.5,1003.5 M788.8,996.6 C788.1,998.1 783.7,998.7 781.8,998.5 C779.9,998.2 777.2,997.3 777.2,995.3 C777.1,993.3 780.0,987.4 781.5,986.3 C783.0,985.3 785.1,987.2 786.4,988.9 C787.6,990.6 789.6,995.0 788.8,996.6Z M795.4,1000.3 C795.3,1000.6 795.1,1001.0 794.8,1001.1 C794.6,1001.3 794.3,1001.3 794.0,1001.3 C793.8,1001.2 793.5,1000.9 793.4,1000.7 C793.4,1000.4 793.4,1000.0 793.5,999.6 C793.6,999.3 793.8,999.0 794.0,998.8 C794.3,998.6 794.6,998.6 794.9,998.7 C795.1,998.7 795.3,999.0 795.4,999.3 C795.5,999.5 795.5,1000.0 795.4,1000.3Z M796.4,998.1 C795.7,996.4 794.3,991.0 792.5,987.7 C790.7,984.4 786.7,979.9 785.5,978.4 M799.0,996.4 C798.5,994.6 796.5,989.5 795.9,985.4 C795.3,981.3 795.4,974.0 795.4,971.7 M803.0,987.0 C801.6,986.8 800.6,981.8 800.5,979.4 C800.3,976.9 800.7,973.3 802.2,972.3 C803.7,971.3 808.7,972.0 809.7,973.3 C810.8,974.7 809.6,978.1 808.5,980.4 C807.3,982.7 804.3,987.2 803.0,987.0Z M802.2,995.7 C802.1,996.0 801.8,996.4 801.6,996.6 C801.3,996.7 801.0,996.8 800.8,996.7 C800.5,996.6 800.3,996.4 800.2,996.1 C800.1,995.8 800.1,995.4 800.2,995.1 C800.3,994.8 800.6,994.4 800.8,994.3 C801.0,994.1 801.4,994.0 801.6,994.1 C801.8,994.2 802.1,994.4 802.2,994.7 C802.3,995.0 802.3,995.4 802.2,995.7Z M802.9,996.9 C804.1,995.3 808.0,991.0 810.3,987.3 C812.6,983.5 815.4,976.6 816.5,974.5 M804.6,999.2 C805.9,997.7 809.5,993.0 812.6,990.3 C815.7,987.7 821.3,984.4 823.0,983.2 M812.4,999.6 C812.4,997.9 816.0,994.3 817.9,993.0 C819.8,991.7 822.6,990.4 823.6,991.8 C824.6,993.2 824.8,999.5 823.9,1001.4 C823.1,1003.3 820.2,1003.5 818.3,1003.2 C816.4,1002.9 812.5,1001.3 812.4,999.6Z M806.7,1001.8 C806.6,1002.1 806.3,1002.4 806.1,1002.6 C805.9,1002.7 805.5,1002.8 805.3,1002.7 C805.0,1002.7 804.8,1002.4 804.7,1002.1 C804.6,1001.9 804.6,1001.4 804.7,1001.1 C804.8,1000.8 805.1,1000.4 805.3,1000.3 C805.5,1000.1 805.9,1000.0 806.1,1000.1 C806.3,1000.2 806.6,1000.5 806.7,1000.7 C806.8,1001.0 806.8,1001.4 806.7,1001.8Z M803.8,1051.9 C803.0,1052.2 800.5,1053.2 798.9,1053.6 C797.2,1054.1 795.6,1054.4 793.9,1054.7 C792.2,1054.9 790.6,1054.9 789.0,1054.9 C787.3,1054.8 785.7,1054.6 784.1,1054.3 C782.5,1054.0 781.0,1053.5 779.5,1052.9 C778.0,1052.3 776.5,1051.6 775.1,1050.8 C773.7,1050.0 772.4,1049.0 771.1,1047.9 C769.8,1046.9 768.6,1045.7 767.5,1044.4 C766.4,1043.1 765.3,1041.7 764.4,1040.3 C763.4,1038.8 762.6,1037.2 761.8,1035.6 C761.0,1033.9 760.4,1032.2 759.8,1030.4 C759.2,1028.6 758.8,1026.8 758.4,1024.9 C758.1,1023.0 757.8,1021.0 757.7,1019.1 C757.5,1017.1 757.5,1015.1 757.6,1013.1 C757.6,1011.0 757.8,1009.0 758.1,1007.0 C758.4,1005.0 759.1,1001.9 759.3,1000.9 M355.2,1060.8 C355.0,1061.2 354.5,1061.5 353.9,1061.5 C353.3,1061.5 352.4,1061.4 351.7,1061.1 C350.9,1060.8 350.0,1060.3 349.4,1059.8 C348.7,1059.3 348.1,1058.6 347.9,1058.0 C347.6,1057.5 347.6,1056.9 347.8,1056.6 C348.0,1056.2 348.5,1055.9 349.1,1055.9 C349.7,1055.9 350.6,1056.0 351.4,1056.3 C352.1,1056.6 353.0,1057.1 353.7,1057.6 C354.3,1058.1 354.9,1058.8 355.1,1059.4 C355.4,1059.9 355.4,1060.5 355.2,1060.8Z M364.2,1066.0 C364.0,1066.4 363.5,1066.7 362.9,1066.7 C362.3,1066.7 361.4,1066.6 360.7,1066.3 C359.9,1066.0 359.0,1065.5 358.4,1065.0 C357.7,1064.5 357.2,1063.8 356.9,1063.2 C356.6,1062.7 356.6,1062.1 356.8,1061.8 C357.0,1061.4 357.5,1061.1 358.1,1061.1 C358.7,1061.1 359.6,1061.2 360.4,1061.5 C361.1,1061.8 362.0,1062.3 362.7,1062.8 C363.3,1063.3 363.9,1064.0 364.1,1064.6 C364.4,1065.1 364.4,1065.7 364.2,1066.0Z M373.3,1071.2 C373.1,1071.6 372.5,1071.9 371.9,1071.9 C371.3,1071.9 370.4,1071.8 369.7,1071.5 C368.9,1071.2 368.0,1070.7 367.4,1070.2 C366.8,1069.7 366.2,1069.0 365.9,1068.4 C365.6,1067.9 365.6,1067.3 365.8,1067.0 C366.0,1066.6 366.5,1066.3 367.1,1066.3 C367.7,1066.3 368.6,1066.4 369.4,1066.7 C370.1,1067.0 371.0,1067.5 371.7,1068.0 C372.3,1068.5 372.9,1069.2 373.2,1069.8 C373.4,1070.3 373.5,1070.9 373.3,1071.2Z M382.3,1076.4 C382.1,1076.8 381.5,1077.1 380.9,1077.1 C380.3,1077.1 379.5,1077.0 378.7,1076.7 C377.9,1076.4 377.0,1075.9 376.4,1075.4 C375.8,1074.9 375.2,1074.2 374.9,1073.6 C374.7,1073.1 374.6,1072.5 374.8,1072.2 C375.0,1071.8 375.6,1071.5 376.1,1071.5 C376.7,1071.5 377.6,1071.6 378.4,1071.9 C379.1,1072.2 380.1,1072.7 380.7,1073.2 C381.3,1073.7 381.9,1074.4 382.2,1075.0 C382.4,1075.5 382.5,1076.1 382.3,1076.4Z M391.3,1081.6 C391.1,1082.0 390.5,1082.3 390.0,1082.3 C389.4,1082.3 388.5,1082.2 387.7,1081.9 C387.0,1081.6 386.0,1081.1 385.4,1080.6 C384.8,1080.1 384.2,1079.4 383.9,1078.8 C383.7,1078.3 383.6,1077.7 383.8,1077.4 C384.0,1077.0 384.6,1076.7 385.2,1076.7 C385.8,1076.7 386.6,1076.8 387.4,1077.1 C388.2,1077.4 389.1,1077.9 389.7,1078.4 C390.3,1078.9 390.9,1079.6 391.2,1080.2 C391.4,1080.7 391.5,1081.3 391.3,1081.6Z M400.3,1086.8 C400.1,1087.2 399.6,1087.5 399.0,1087.5 C398.4,1087.5 397.5,1087.4 396.7,1087.1 C396.0,1086.8 395.1,1086.3 394.4,1085.8 C393.8,1085.3 393.2,1084.6 392.9,1084.0 C392.7,1083.5 392.6,1082.9 392.8,1082.6 C393.0,1082.2 393.6,1081.9 394.2,1081.9 C394.8,1081.9 395.7,1082.0 396.4,1082.3 C397.2,1082.6 398.1,1083.1 398.7,1083.6 C399.3,1084.1 399.9,1084.8 400.2,1085.4 C400.5,1085.9 400.5,1086.5 400.3,1086.8Z M409.3,1092.0 C409.1,1092.4 408.6,1092.7 408.0,1092.7 C407.4,1092.7 406.5,1092.6 405.7,1092.3 C405.0,1092.0 404.1,1091.5 403.4,1091.0 C402.8,1090.5 402.2,1089.8 402.0,1089.2 C401.7,1088.7 401.7,1088.1 401.9,1087.8 C402.1,1087.4 402.6,1087.1 403.2,1087.1 C403.8,1087.1 404.7,1087.2 405.4,1087.5 C406.2,1087.8 407.1,1088.3 407.7,1088.8 C408.4,1089.3 408.9,1090.0 409.2,1090.6 C409.5,1091.1 409.5,1091.7 409.3,1092.0Z M418.3,1097.2 C418.1,1097.6 417.6,1097.9 417.0,1097.9 C416.4,1097.9 415.5,1097.8 414.7,1097.5 C414.0,1097.2 413.1,1096.7 412.4,1096.2 C411.8,1095.7 411.2,1095.0 411.0,1094.4 C410.7,1093.9 410.7,1093.3 410.9,1093.0 C411.1,1092.6 411.6,1092.3 412.2,1092.3 C412.8,1092.3 413.7,1092.4 414.4,1092.7 C415.2,1093.0 416.1,1093.5 416.7,1094.0 C417.4,1094.5 418.0,1095.2 418.2,1095.8 C418.5,1096.3 418.5,1096.9 418.3,1097.2Z M354.1,1070.9 C353.9,1071.2 353.4,1071.5 352.8,1071.5 C352.2,1071.5 351.3,1071.4 350.5,1071.1 C349.8,1070.8 348.9,1070.3 348.2,1069.7 C347.6,1069.2 347.0,1068.5 346.7,1068.0 C346.5,1067.5 346.5,1066.9 346.7,1066.5 C346.9,1066.2 347.4,1065.9 348.0,1065.9 C348.6,1065.8 349.5,1066.0 350.2,1066.3 C351.0,1066.6 351.9,1067.1 352.5,1067.6 C353.2,1068.1 353.7,1068.8 354.0,1069.4 C354.3,1069.9 354.3,1070.5 354.1,1070.9Z M362.6,1075.8 C362.4,1076.2 361.9,1076.4 361.3,1076.5 C360.7,1076.5 359.8,1076.4 359.1,1076.1 C358.3,1075.8 357.4,1075.2 356.8,1074.7 C356.1,1074.2 355.6,1073.5 355.3,1073.0 C355.0,1072.4 355.0,1071.9 355.2,1071.5 C355.4,1071.1 355.9,1070.9 356.5,1070.8 C357.1,1070.8 358.0,1071.0 358.8,1071.3 C359.5,1071.6 360.4,1072.1 361.1,1072.6 C361.7,1073.1 362.3,1073.8 362.6,1074.3 C362.8,1074.9 362.8,1075.5 362.6,1075.8Z M371.2,1080.8 C371.0,1081.2 370.5,1081.4 369.9,1081.5 C369.3,1081.5 368.4,1081.3 367.6,1081.0 C366.9,1080.7 366.0,1080.2 365.3,1079.7 C364.7,1079.2 364.1,1078.5 363.8,1078.0 C363.6,1077.4 363.6,1076.8 363.8,1076.5 C364.0,1076.1 364.5,1075.9 365.1,1075.8 C365.7,1075.8 366.6,1075.9 367.3,1076.2 C368.1,1076.5 369.0,1077.1 369.6,1077.6 C370.3,1078.1 370.8,1078.8 371.1,1079.3 C371.4,1079.9 371.4,1080.4 371.2,1080.8Z M379.7,1085.8 C379.5,1086.1 379.0,1086.4 378.4,1086.4 C377.8,1086.5 376.9,1086.3 376.2,1086.0 C375.4,1085.7 374.5,1085.2 373.9,1084.7 C373.2,1084.2 372.7,1083.5 372.4,1082.9 C372.1,1082.4 372.1,1081.8 372.3,1081.4 C372.5,1081.1 373.0,1080.8 373.6,1080.8 C374.2,1080.8 375.1,1080.9 375.9,1081.2 C376.6,1081.5 377.5,1082.0 378.2,1082.6 C378.8,1083.1 379.4,1083.8 379.7,1084.3 C379.9,1084.8 379.9,1085.4 379.7,1085.8Z M388.3,1090.8 C388.1,1091.1 387.6,1091.4 387.0,1091.4 C386.4,1091.4 385.5,1091.3 384.7,1091.0 C384.0,1090.7 383.1,1090.2 382.4,1089.6 C381.8,1089.1 381.2,1088.4 380.9,1087.9 C380.7,1087.4 380.7,1086.8 380.9,1086.4 C381.1,1086.1 381.6,1085.8 382.2,1085.8 C382.8,1085.7 383.7,1085.9 384.4,1086.2 C385.2,1086.5 386.1,1087.0 386.7,1087.5 C387.4,1088.0 387.9,1088.7 388.2,1089.3 C388.5,1089.8 388.5,1090.4 388.3,1090.8Z M396.8,1095.7 C396.6,1096.1 396.1,1096.3 395.5,1096.4 C394.9,1096.4 394.0,1096.3 393.3,1096.0 C392.5,1095.7 391.6,1095.1 391.0,1094.6 C390.3,1094.1 389.8,1093.4 389.5,1092.9 C389.2,1092.3 389.2,1091.8 389.4,1091.4 C389.6,1091.0 390.1,1090.8 390.7,1090.7 C391.3,1090.7 392.2,1090.9 393.0,1091.2 C393.7,1091.5 394.6,1092.0 395.3,1092.5 C395.9,1093.0 396.5,1093.7 396.8,1094.2 C397.0,1094.8 397.0,1095.4 396.8,1095.7Z M405.4,1100.7 C405.2,1101.1 404.7,1101.3 404.1,1101.4 C403.5,1101.4 402.6,1101.2 401.8,1100.9 C401.1,1100.6 400.2,1100.1 399.5,1099.6 C398.9,1099.1 398.3,1098.4 398.0,1097.9 C397.8,1097.3 397.8,1096.7 398.0,1096.4 C398.2,1096.0 398.7,1095.8 399.3,1095.7 C399.9,1095.7 400.8,1095.8 401.5,1096.1 C402.3,1096.4 403.2,1097.0 403.8,1097.5 C404.5,1098.0 405.0,1098.7 405.3,1099.2 C405.6,1099.8 405.6,1100.3 405.4,1100.7Z M413.9,1105.7 C413.7,1106.0 413.2,1106.3 412.6,1106.3 C412.0,1106.4 411.1,1106.2 410.4,1105.9 C409.6,1105.6 408.7,1105.1 408.1,1104.6 C407.4,1104.1 406.9,1103.4 406.6,1102.8 C406.3,1102.3 406.3,1101.7 406.5,1101.3 C406.7,1101.0 407.2,1100.7 407.8,1100.7 C408.4,1100.7 409.3,1100.8 410.1,1101.1 C410.8,1101.4 411.7,1101.9 412.4,1102.5 C413.0,1103.0 413.6,1103.7 413.9,1104.2 C414.1,1104.7 414.1,1105.3 413.9,1105.7Z"/>
<path class="blk" d="M444.5,1059.2 L446.0,1047.2 L458.0,1038.2 L468.6,1032.1 L479.1,1039.7 L486.6,1035.1 L495.6,1023.1 L510.6,1017.1 L513.6,1005.1 L527.2,999.1 L543.7,988.6 L572.3,988.6 L587.3,993.1 L602.3,985.5 L617.3,979.5 L632.4,975.0 L645.9,979.5 L657.9,975.0 L660.9,969.0 L668.4,968.4 L671.4,973.5 L686.5,979.5 L698.5,987.1 L692.5,993.1 L677.5,999.1 L671.4,1002.1 L656.4,1005.1 L650.4,1011.1 L635.4,1012.6 L620.3,1020.1 L611.3,1024.6 L603.8,1032.1 L602.3,1039.7 L611.3,1047.2 L615.8,1062.2 L606.8,1065.2 L596.3,1071.2 L584.3,1074.2 L572.3,1080.2 L569.2,1086.2 L554.2,1089.2 L539.2,1093.8 L536.2,1098.3 L518.2,1096.8 L513.6,1089.2 L513.6,1078.7 L522.7,1065.2 L516.6,1059.2 L512.1,1047.2 L504.6,1042.7 L491.1,1042.7 L476.1,1047.2 L462.5,1056.2 L455.0,1060.7Z M692.7,879.8 L704.3,871.7 L721.6,861.3 L728.6,860.6 L736.7,865.9 L743.6,876.3 L754.0,885.5 L755.2,891.3 L722.8,911.0 L718.2,909.8 L714.7,901.7 L705.5,894.8 L697.4,887.9Z M687.0,928.3 L692.7,923.7 L698.5,922.5 L702.0,916.8 L710.1,913.8 L717.0,916.8 L718.2,922.5 L714.7,928.3 L706.6,929.9 L699.7,927.2 L692.7,929.0Z M717.0,943.4 L721.6,929.5 L727.4,930.6 L734.4,934.1 L744.8,937.6 L754.0,936.9 L759.8,942.2 L762.1,950.3 L750.5,957.2 L750.5,961.8 L741.3,961.8 L732.1,956.1 L722.8,953.8 L719.3,952.6Z M773.7,936.4 L782.9,924.9 L796.8,913.3 L808.4,911.0 L822.2,914.5 L830.3,920.2 L831.5,926.0 L815.3,936.4 L801.4,942.2 L792.2,938.7 L778.3,939.9Z"/>
<path clip-path="url(#blobclip)" class="carl" d="M504.5,857.9 C511.5,854.2 516.7,851.6 546.8,835.7 C576.8,819.7 657.3,776.1 684.7,762.3 C712.2,748.4 704.0,753.6 711.4,752.5 C718.9,751.3 726.3,755.1 729.2,755.6 M729.2,755.6 C738.2,759.7 769.3,772.3 782.7,780.1 C796.0,787.8 803.1,795.3 809.4,802.3 C815.7,809.4 818.9,817.5 820.5,822.3 C822.1,827.2 819.4,829.8 819.2,831.2 M798.2,826.8 L811.6,831.2 L819.2,831.2 M684.7,762.3 C698.1,768.9 747.1,791.6 764.9,802.3 C782.7,813.1 787.1,822.7 791.6,826.8 M555.7,849.0 L698.1,773.4 M564.6,856.6 L711.4,782.3 M575.7,863.7 L727.0,792.5 M586.8,869.1 L738.2,798.8 M596.6,874.4 L752.4,807.7 M613.5,882.4 L764.9,815.7 M622.4,889.1 L774.6,823.7 M449.1,913.4 C448.0,909.9 442.8,897.8 442.2,892.6 C441.6,887.4 443.6,884.3 445.7,882.2 C447.7,880.1 451.7,878.6 454.3,879.8 C456.9,880.9 459.8,886.1 461.3,889.1 C462.7,892.1 462.7,896.4 463.0,897.8 M426.6,937.7 L431.8,955.0 L417.9,959.9 M425.2,941.5 C420.2,944.3 406.2,950.3 395.2,958.0 C384.2,965.8 368.6,979.6 359.1,988.1 C349.6,996.6 342.8,1004.1 338.1,1009.1 C333.3,1014.1 332.0,1015.1 330.5,1018.2 C329.1,1021.2 329.8,1025.7 329.6,1027.2 M330.5,1019.7 C331.6,1022.7 334.6,1033.2 336.6,1037.7 C338.6,1042.2 328.0,1036.9 342.6,1046.7 C357.1,1056.5 408.7,1087.3 423.7,1096.3 C438.8,1105.3 430.0,1100.6 432.7,1100.8 C435.5,1101.1 439.0,1098.3 440.3,1097.8 M440.3,1081.3 C443.8,1082.3 453.8,1085.5 461.3,1087.3 C468.8,1089.0 478.3,1091.3 485.3,1091.8 C492.4,1092.3 498.6,1091.8 503.4,1090.3 C508.1,1088.8 511.9,1085.0 513.9,1082.8 C515.9,1080.5 515.2,1077.8 515.4,1076.8 M348.6,1033.2 C350.8,1030.2 352.8,1024.2 362.1,1015.1 C371.4,1006.1 393.2,988.6 404.2,979.1 C415.2,969.6 424.2,961.5 428.2,958.0 M428.2,944.5 C429.7,946.8 430.7,952.3 437.3,958.0 C443.8,963.8 454.3,970.6 467.3,979.1 C480.3,987.6 503.4,1002.3 515.4,1009.1 C527.4,1016.0 530.2,1017.0 539.2,1020.1 C548.1,1023.2 561.2,1026.3 569.2,1027.6 C577.2,1028.8 584.2,1027.6 587.2,1027.6 M440.3,1081.3 C447.8,1076.5 472.8,1059.7 485.3,1052.7 C497.9,1045.7 510.4,1041.4 515.4,1039.2 M394.6,970.1 C395.0,967.8 394.6,967.1 398.2,964.0 C401.8,961.0 412.3,954.1 416.2,952.0 C420.1,949.9 420.5,950.7 421.6,951.4 C422.7,952.2 423.2,954.7 422.8,956.5 C422.4,958.4 422.8,959.3 419.2,962.5 C415.6,965.8 405.1,973.6 401.2,976.1 C397.3,978.6 396.9,978.6 395.8,977.6 C394.7,976.6 394.2,972.3 394.6,970.1Z M327.5,1025.7 C326.5,1028.4 323.4,1037.2 321.5,1042.2 C319.7,1047.2 315.7,1052.7 316.4,1055.7 C317.2,1058.7 322.7,1059.0 326.0,1060.2 C329.4,1061.5 334.1,1065.2 336.6,1063.2 C339.1,1061.2 340.3,1050.7 341.1,1048.2 M341.1,1047.6 L424.6,1097.8 L418.6,1114.9 L410.2,1112.8 L340.5,1072.3Z M345.6,1053.6 L420.7,1099.9 L416.2,1111.3 L410.2,1108.9 L344.1,1069.8Z M343.5,1059.6 L418.6,1105.3 M342.3,1065.6 L416.8,1110.1 M316.4,1055.7 C316.1,1058.0 314.5,1063.5 314.6,1069.2 C314.7,1075.0 314.9,1083.8 317.0,1090.3 C319.2,1096.8 324.5,1103.3 327.5,1108.3 C330.5,1113.3 329.3,1114.8 335.1,1120.3 C340.8,1125.9 349.6,1134.4 362.1,1141.4 C374.6,1148.4 398.2,1157.2 410.2,1162.4 C422.2,1167.7 421.7,1169.9 434.2,1172.9 C446.8,1176.0 476.1,1180.7 485.3,1180.5 C494.6,1180.2 489.1,1172.9 489.9,1171.4 M326.0,1093.3 L338.1,1096.3 L417.7,1136.9 L425.2,1132.4 L485.3,1138.4 L500.4,1132.4 M335.1,1111.3 L344.1,1112.8 L419.2,1150.4 L425.2,1160.9 L416.2,1159.4 L338.1,1120.3Z M423.7,1104.7 C425.0,1101.8 423.0,1099.3 431.2,1099.3 C439.5,1099.3 461.8,1105.2 473.3,1104.7 C484.8,1104.2 496.4,1095.7 500.4,1096.3 C504.4,1096.9 499.9,1104.8 497.4,1108.3 C494.9,1111.8 492.4,1115.2 485.3,1117.3 C478.3,1119.4 465.6,1121.0 455.3,1120.9 C445.0,1120.8 429.0,1119.4 423.7,1116.7 C418.5,1114.0 422.5,1107.6 423.7,1104.7Z M431.2,1141.4 L470.3,1145.0 L471.8,1162.4 L464.3,1164.5 L437.3,1154.9 L429.7,1147.4Z M434.2,1143.2 L470.3,1148.0 L470.3,1150.4 L434.2,1145.6Z M440.3,1124.0 L449.3,1124.9 L448.7,1129.4 L439.7,1128.5Z M315.5,1072.3 L318.5,1081.3 L326.0,1090.3 L324.5,1081.3 L317.0,1072.3Z M319.4,1051.8 L323.6,1053.6 L324.8,1058.7 L320.6,1057.2Z M485.3,1180.5 L497.4,1198.5 M491.4,1168.4 C492.9,1162.9 495.4,1144.9 500.4,1135.4 C505.4,1125.9 513.9,1116.8 521.4,1111.3 C528.9,1105.8 538.2,1104.1 545.5,1102.3 C552.7,1100.6 561.7,1101.1 565.0,1100.8 M504.6,857.5 L509.0,866.0 M509.0,866.0 C516.7,870.6 539.8,884.4 555.0,893.5 C570.2,902.6 588.3,914.3 600.0,920.4 C611.7,926.5 619.7,928.6 625.1,930.3 C630.5,932.0 631.3,930.6 632.5,930.7 M504.6,856.2 L426.6,937.7 L393.6,958.5 M627.0,929.4 L693.6,885.0 L726.9,865.5 L755.2,850.0 L798.2,826.8 M634.4,930.7 L643.6,924.7 L703.8,890.5 L741.7,869.2 L771.4,854.6 L790.0,843.0 M628.8,931.2 L614.0,959.9 L603.9,980.0 L588.9,1025.5 M643.6,924.7 L634.4,941.4 L617.7,974.7 L615.5,986.2 L615.5,994.3 M686.2,902.5 C686.8,907.8 689.0,924.4 689.9,934.0 C690.8,943.6 691.0,951.7 691.7,959.9 C692.4,968.1 693.7,975.4 694.2,983.4 C694.8,991.4 695.1,999.1 695.0,1007.7 C694.9,1016.3 693.8,1026.0 693.4,1035.2 C693.0,1044.4 692.7,1058.1 692.6,1062.7 M681.6,904.4 L682.5,934.0 L683.4,963.6 M691.7,897.9 L696.4,921.0 L700.1,952.5 M640.9,989.7 L693.4,960.7 L717.0,946.0 L791.0,905.5 L831.5,882.4 L854.6,868.5 M515.1,1084.7 L599.3,1038.0 L640.0,1014.2 L694.2,980.2 L759.8,938.6 L791.0,921.7 L826.8,899.7 L835.0,889.3 M578.5,1089.1 L694.2,1020.0 L756.5,982.6 M591.2,1106.5 L694.0,1043.5 L753.3,1009.3 M570.4,1133.1 L693.5,1062.0 L746.8,1027.1 M588.9,1026.7 C589.1,1031.5 589.7,1045.4 590.1,1055.6 C590.4,1065.8 591.4,1078.0 591.2,1088.0 C591.0,1098.0 589.9,1109.6 588.9,1115.7 C587.9,1121.9 586.0,1123.4 585.4,1125.0 M539.2,1096.8 L620.3,1048.7 M748.4,1029.0 C749.2,1026.5 751.1,1018.4 753.1,1014.0 C755.0,1009.6 758.8,1004.4 760.0,1002.4 M560.0,1099.5 C561.2,1100.7 565.0,1103.0 566.9,1106.5 C568.9,1109.9 571.0,1115.9 571.6,1120.3 C572.1,1124.8 570.8,1129.8 570.4,1133.1 C570.0,1136.3 569.4,1138.8 569.2,1140.0 M754.0,863.9 C755.8,868.7 762.3,885.3 764.4,892.8 C766.5,900.3 766.3,906.3 766.7,909.0 M744.8,868.5 C746.5,871.8 750.4,882.0 755.2,888.2 C760.0,894.3 770.6,902.6 773.7,905.5 M757.5,863.9 L794.5,845.4 M780.6,902.0 L829.2,866.2 L794.5,845.4 M791.0,917.1 C791.1,922.1 792.7,940.0 791.7,947.1 C790.7,954.2 789.4,954.4 785.2,959.8 C781.1,965.2 772.1,971.2 766.7,979.5 C761.3,987.8 755.9,1001.1 752.9,1009.5 C749.8,1018.0 749.0,1026.9 748.2,1030.3 M748.2,1030.3 C749.8,1023.8 753.2,1001.6 757.5,991.0 C761.7,980.4 767.5,973.1 773.7,966.8 C779.8,960.4 787.5,956.0 794.5,952.9 C801.4,949.8 809.1,947.5 815.3,948.3 C821.5,949.0 827.8,953.7 831.5,957.5 C835.1,961.4 836.3,969.1 837.3,971.4 M785.2,800.0 C789.9,801.9 807.2,808.3 813.0,811.6 C818.8,814.8 819.3,816.4 819.9,819.7 C820.5,822.9 819.1,829.9 816.4,831.2 C813.7,832.6 807.6,828.5 803.7,827.7 C799.9,827.0 795.1,826.8 793.3,826.6 M819.9,819.7 C821.8,821.4 827.6,826.0 831.5,830.1 C835.3,834.1 839.6,839.7 843.0,843.9 C846.5,848.2 849.8,851.3 852.3,855.5 C854.8,859.7 856.5,863.2 858.1,869.4 C859.6,875.5 861.3,884.8 861.5,892.5 C861.7,900.2 861.1,907.9 859.2,915.6 C857.3,923.3 853.1,931.8 850.0,938.7 C846.9,945.7 843.4,951.8 840.7,957.2 C838.0,962.6 834.9,968.8 833.8,971.1 M845.3,848.6 C846.9,852.0 852.7,861.3 854.6,869.4 C856.5,877.5 857.3,888.6 856.9,897.1 C856.5,905.6 855.0,911.8 852.3,920.2 C849.6,928.7 842.6,943.4 840.7,948.0 M831.5,890.2 C834.2,889.4 843.4,885.5 847.7,885.5 C851.9,885.5 855.4,889.4 856.9,890.2 M561.5,1161.4 C560.6,1163.9 559.4,1166.5 558.1,1168.8 C556.8,1171.1 555.2,1173.4 553.5,1175.4 C551.8,1177.4 550.0,1179.2 548.0,1180.8 C546.1,1182.3 544.0,1183.7 541.9,1184.7 C539.9,1185.8 537.7,1186.6 535.5,1187.1 C533.4,1187.5 531.2,1187.7 529.1,1187.6 C527.0,1187.5 524.9,1187.1 523.0,1186.4 C521.1,1185.7 519.2,1184.7 517.5,1183.4 C515.9,1182.1 514.3,1180.6 513.0,1178.9 C511.6,1177.1 510.5,1175.1 509.5,1173.0 C508.6,1170.8 507.9,1168.4 507.4,1166.0 C506.9,1163.6 506.7,1160.9 506.7,1158.3 C506.7,1155.7 506.9,1153.0 507.4,1150.4 C507.9,1147.7 508.6,1145.0 509.6,1142.4 C510.5,1139.9 511.7,1137.4 513.0,1135.0 C514.3,1132.7 515.9,1130.4 517.6,1128.4 C519.2,1126.4 521.1,1124.6 523.0,1123.0 C525.0,1121.5 527.1,1120.1 529.1,1119.1 C531.2,1118.0 533.4,1117.2 535.6,1116.8 C537.7,1116.3 539.9,1116.1 542.0,1116.2 C544.1,1116.3 546.2,1116.7 548.1,1117.4 C550.0,1118.2 551.9,1119.2 553.6,1120.4 C555.2,1121.7 556.8,1123.2 558.1,1125.0 C559.5,1126.7 560.6,1128.7 561.6,1130.9 C562.5,1133.0 563.2,1135.4 563.7,1137.8 C564.2,1140.3 564.4,1142.9 564.4,1145.5 C564.4,1148.1 564.1,1150.8 563.7,1153.5 C563.2,1156.1 562.5,1158.8 561.5,1161.4Z M558.4,1160.2 C557.6,1162.5 556.6,1164.7 555.4,1166.8 C554.2,1168.8 552.8,1170.8 551.4,1172.6 C549.9,1174.3 548.2,1175.9 546.5,1177.3 C544.8,1178.7 543.0,1179.9 541.2,1180.8 C539.3,1181.7 537.4,1182.4 535.5,1182.8 C533.6,1183.3 531.7,1183.4 529.9,1183.3 C528.0,1183.2 526.2,1182.8 524.5,1182.2 C522.8,1181.6 521.2,1180.7 519.7,1179.6 C518.2,1178.5 516.9,1177.1 515.7,1175.6 C514.5,1174.1 513.5,1172.3 512.7,1170.4 C511.8,1168.5 511.2,1166.5 510.8,1164.3 C510.4,1162.2 510.2,1159.9 510.2,1157.6 C510.2,1155.3 510.4,1152.9 510.8,1150.5 C511.2,1148.2 511.9,1145.8 512.7,1143.6 C513.5,1141.3 514.5,1139.1 515.7,1137.0 C516.9,1135.0 518.3,1133.0 519.7,1131.3 C521.2,1129.5 522.8,1127.9 524.5,1126.5 C526.2,1125.1 528.1,1123.9 529.9,1123.0 C531.8,1122.1 533.7,1121.4 535.6,1121.0 C537.4,1120.6 539.4,1120.4 541.2,1120.5 C543.1,1120.6 544.9,1121.0 546.6,1121.6 C548.3,1122.2 549.9,1123.1 551.4,1124.2 C552.9,1125.3 554.2,1126.7 555.4,1128.2 C556.6,1129.7 557.6,1131.5 558.4,1133.4 C559.2,1135.3 559.9,1137.4 560.3,1139.5 C560.7,1141.7 560.9,1144.0 560.9,1146.2 C560.9,1148.5 560.7,1150.9 560.3,1153.3 C559.9,1155.6 559.2,1158.0 558.4,1160.2Z M538.9,1153.1 C538.6,1154.0 538.0,1155.0 537.3,1155.5 C536.7,1156.1 535.8,1156.5 535.0,1156.5 C534.3,1156.6 533.5,1156.3 532.9,1155.8 C532.4,1155.3 532.0,1154.4 531.9,1153.5 C531.7,1152.7 531.8,1151.6 532.2,1150.7 C532.5,1149.8 533.1,1148.8 533.8,1148.3 C534.4,1147.7 535.3,1147.3 536.1,1147.3 C536.8,1147.2 537.6,1147.5 538.1,1148.0 C538.7,1148.5 539.1,1149.4 539.2,1150.3 C539.4,1151.1 539.2,1152.3 538.9,1153.1Z M540.4,1153.1 C541.7,1153.9 545.2,1156.5 548.2,1157.6 C551.1,1158.6 556.5,1159.0 558.2,1159.3 M538.9,1156.0 C540.1,1156.9 543.9,1159.1 546.2,1161.4 C548.4,1163.8 551.4,1168.8 552.4,1170.3 M539.3,1165.1 C540.6,1164.3 543.6,1167.0 544.7,1168.6 C545.9,1170.1 547.1,1172.8 546.2,1174.5 C545.2,1176.2 540.7,1179.1 539.2,1178.9 C537.7,1178.6 537.3,1175.5 537.3,1173.2 C537.3,1170.9 538.1,1165.9 539.3,1165.1Z M538.3,1158.5 C538.2,1158.8 537.9,1159.1 537.7,1159.3 C537.5,1159.4 537.1,1159.5 536.9,1159.4 C536.7,1159.3 536.5,1159.1 536.4,1158.8 C536.3,1158.5 536.3,1158.1 536.4,1157.8 C536.5,1157.6 536.8,1157.2 537.0,1157.1 C537.2,1156.9 537.6,1156.9 537.8,1157.0 C538.0,1157.1 538.2,1157.3 538.3,1157.6 C538.4,1157.8 538.4,1158.2 538.3,1158.5Z M535.2,1158.3 C534.8,1160.2 533.2,1165.7 532.8,1169.8 C532.4,1173.8 532.8,1180.4 532.8,1182.6 M532.8,1157.9 C532.2,1159.8 531.1,1165.4 529.5,1169.2 C528.0,1173.1 524.4,1179.0 523.4,1181.0 M525.8,1162.8 C526.5,1163.9 524.8,1168.8 523.8,1170.9 C522.7,1173.1 520.8,1175.8 519.3,1175.6 C517.9,1175.3 515.0,1171.2 515.0,1169.3 C515.0,1167.4 517.4,1165.4 519.2,1164.3 C521.0,1163.2 525.0,1161.7 525.8,1162.8Z M531.8,1157.4 C531.7,1157.7 531.4,1158.0 531.2,1158.2 C531.0,1158.3 530.7,1158.4 530.4,1158.3 C530.2,1158.2 530.0,1158.0 529.9,1157.7 C529.9,1157.5 529.9,1157.1 530.0,1156.8 C530.1,1156.5 530.3,1156.2 530.6,1156.0 C530.8,1155.9 531.1,1155.8 531.3,1155.9 C531.5,1156.0 531.8,1156.2 531.8,1156.5 C531.9,1156.7 531.9,1157.2 531.8,1157.4Z M530.5,1154.6 C529.0,1155.1 524.4,1155.8 521.2,1157.3 C518.0,1158.8 512.9,1162.4 511.2,1163.5 M530.5,1151.5 C529.0,1151.8 524.4,1153.1 521.2,1153.1 C518.0,1153.1 512.9,1151.7 511.2,1151.5 M525.7,1145.5 C524.9,1146.9 520.9,1147.3 519.1,1147.0 C517.3,1146.8 514.9,1145.8 514.9,1143.9 C514.9,1142.1 517.7,1136.7 519.2,1135.7 C520.7,1134.8 522.6,1136.7 523.7,1138.3 C524.7,1139.9 526.5,1144.0 525.7,1145.5Z M531.8,1149.2 C531.7,1149.5 531.4,1149.8 531.2,1149.9 C531.0,1150.1 530.6,1150.1 530.4,1150.1 C530.2,1150.0 530.0,1149.7 529.9,1149.5 C529.8,1149.2 529.8,1148.8 530.0,1148.5 C530.1,1148.2 530.3,1147.9 530.5,1147.8 C530.8,1147.6 531.1,1147.6 531.3,1147.6 C531.5,1147.7 531.7,1148.0 531.8,1148.2 C531.9,1148.5 531.9,1148.9 531.8,1149.2Z M532.7,1147.2 C532.2,1145.6 531.0,1140.5 529.4,1137.4 C527.8,1134.2 524.3,1129.9 523.3,1128.4 M535.2,1145.7 C534.8,1143.9 533.1,1139.2 532.7,1135.3 C532.3,1131.5 532.6,1124.7 532.6,1122.5 M539.2,1137.0 C538.0,1136.8 537.2,1132.1 537.2,1129.8 C537.1,1127.6 537.5,1124.2 539.0,1123.3 C540.5,1122.4 545.1,1123.2 546.0,1124.5 C546.9,1125.8 545.7,1129.0 544.6,1131.1 C543.5,1133.2 540.5,1137.2 539.2,1137.0Z M538.2,1145.2 C538.1,1145.4 537.9,1145.8 537.6,1145.9 C537.4,1146.1 537.1,1146.1 536.9,1146.0 C536.7,1145.9 536.4,1145.7 536.4,1145.4 C536.3,1145.2 536.3,1144.8 536.4,1144.5 C536.5,1144.2 536.7,1143.9 537.0,1143.7 C537.2,1143.6 537.5,1143.5 537.7,1143.6 C538.0,1143.7 538.2,1143.9 538.3,1144.2 C538.3,1144.5 538.3,1144.9 538.2,1145.2Z M538.8,1146.3 C540.0,1144.8 543.8,1141.0 546.1,1137.5 C548.3,1134.1 551.2,1127.8 552.2,1125.8 M540.4,1148.5 C541.7,1147.1 545.2,1142.9 548.1,1140.5 C551.1,1138.1 556.4,1135.2 558.1,1134.2 M547.7,1149.1 C547.7,1147.5 551.2,1144.3 553.0,1143.2 C554.8,1142.0 557.4,1140.9 558.3,1142.2 C559.2,1143.5 559.2,1149.4 558.3,1151.2 C557.5,1152.9 554.8,1153.0 553.0,1152.7 C551.2,1152.3 547.7,1150.7 547.7,1149.1Z M542.2,1150.9 C542.1,1151.2 541.9,1151.5 541.6,1151.7 C541.4,1151.8 541.1,1151.9 540.9,1151.8 C540.7,1151.7 540.4,1151.5 540.4,1151.2 C540.3,1150.9 540.3,1150.5 540.4,1150.3 C540.5,1150.0 540.8,1149.6 541.0,1149.5 C541.2,1149.4 541.5,1149.3 541.8,1149.4 C542.0,1149.5 542.2,1149.7 542.3,1150.0 C542.3,1150.2 542.3,1150.6 542.2,1150.9Z M570.0,1165.3 C569.4,1166.9 567.9,1171.8 566.4,1174.8 C565.0,1177.9 563.2,1180.8 561.3,1183.5 C559.4,1186.2 557.2,1188.8 554.9,1191.0 C552.6,1193.3 550.1,1195.3 547.6,1196.9 C545.0,1198.6 542.3,1200.0 539.6,1201.1 C536.9,1202.1 534.1,1202.8 531.3,1203.1 C528.6,1203.5 525.8,1203.5 523.2,1203.1 C520.5,1202.8 517.9,1202.0 515.5,1201.0 C513.0,1200.0 510.7,1198.6 508.6,1196.9 C506.5,1195.2 504.5,1193.2 502.8,1190.9 C501.1,1188.7 499.6,1186.1 498.4,1183.4 C497.2,1180.7 496.3,1177.7 495.6,1174.7 C495.0,1171.6 494.6,1168.4 494.5,1165.1 C494.4,1161.9 494.7,1158.5 495.2,1155.2 C495.7,1151.9 496.5,1148.5 497.5,1145.3 C498.6,1142.1 500.9,1137.5 501.5,1135.9 M827.7,1012.2 C826.8,1015.0 825.6,1017.7 824.3,1020.3 C823.0,1022.9 821.4,1025.3 819.7,1027.5 C817.9,1029.7 816.0,1031.8 814.0,1033.5 C812.0,1035.3 809.8,1036.8 807.6,1038.0 C805.4,1039.2 803.1,1040.1 800.8,1040.7 C798.6,1041.3 796.2,1041.6 794.0,1041.5 C791.8,1041.5 789.5,1041.1 787.4,1040.4 C785.3,1039.8 783.3,1038.8 781.5,1037.5 C779.6,1036.2 777.9,1034.6 776.4,1032.8 C774.9,1031.0 773.6,1028.8 772.5,1026.6 C771.5,1024.3 770.6,1021.8 770.0,1019.2 C769.4,1016.6 769.0,1013.8 768.9,1011.0 C768.8,1008.3 769.0,1005.3 769.4,1002.5 C769.8,999.6 770.5,996.7 771.4,993.9 C772.3,991.1 773.5,988.4 774.8,985.8 C776.2,983.3 777.8,980.8 779.5,978.6 C781.2,976.4 783.1,974.4 785.1,972.6 C787.1,970.9 789.3,969.3 791.5,968.1 C793.7,966.9 796.0,966.0 798.3,965.4 C800.6,964.8 802.9,964.5 805.1,964.6 C807.4,964.6 809.6,965.0 811.7,965.7 C813.8,966.4 815.8,967.4 817.7,968.7 C819.5,969.9 821.2,971.5 822.7,973.4 C824.2,975.2 825.5,977.3 826.6,979.5 C827.7,981.8 828.5,984.3 829.1,986.9 C829.7,989.5 830.1,992.3 830.2,995.1 C830.3,997.9 830.1,1000.8 829.7,1003.7 C829.3,1006.5 828.6,1009.4 827.7,1012.2Z M824.3,1011.1 C823.5,1013.6 822.5,1016.0 821.3,1018.2 C820.2,1020.5 818.8,1022.6 817.2,1024.6 C815.7,1026.5 814.0,1028.3 812.3,1029.9 C810.5,1031.4 808.6,1032.7 806.7,1033.8 C804.7,1034.9 802.7,1035.7 800.7,1036.2 C798.7,1036.7 796.6,1037.0 794.7,1036.9 C792.7,1036.9 790.7,1036.6 788.9,1036.0 C787.0,1035.4 785.2,1034.5 783.6,1033.3 C782.0,1032.2 780.5,1030.8 779.2,1029.2 C777.9,1027.6 776.7,1025.8 775.8,1023.8 C774.8,1021.8 774.1,1019.6 773.5,1017.3 C773.0,1015.0 772.7,1012.5 772.6,1010.1 C772.5,1007.6 772.7,1005.0 773.0,1002.5 C773.4,1000.0 774.0,997.5 774.8,995.0 C775.6,992.6 776.6,990.1 777.8,987.9 C779.0,985.7 780.4,983.5 781.9,981.5 C783.4,979.6 785.1,977.8 786.9,976.3 C788.6,974.7 790.5,973.4 792.5,972.3 C794.4,971.3 796.5,970.5 798.4,969.9 C800.4,969.4 802.5,969.2 804.5,969.2 C806.4,969.2 808.4,969.6 810.3,970.2 C812.1,970.8 813.9,971.7 815.5,972.8 C817.1,973.9 818.6,975.3 819.9,976.9 C821.3,978.5 822.4,980.4 823.4,982.4 C824.3,984.3 825.1,986.6 825.6,988.8 C826.1,991.1 826.4,993.6 826.5,996.0 C826.6,998.5 826.5,1001.1 826.1,1003.6 C825.7,1006.1 825.1,1008.7 824.3,1011.1Z M803.2,1004.3 C802.9,1005.2 802.3,1006.2 801.6,1006.9 C800.9,1007.5 800.0,1008.0 799.2,1008.1 C798.4,1008.1 797.5,1007.8 796.9,1007.3 C796.3,1006.8 795.8,1005.9 795.7,1005.0 C795.5,1004.1 795.6,1002.8 795.9,1001.9 C796.2,1000.9 796.9,999.9 797.5,999.2 C798.2,998.6 799.2,998.1 799.9,998.1 C800.7,998.0 801.6,998.3 802.2,998.8 C802.8,999.3 803.3,1000.3 803.5,1001.2 C803.6,1002.1 803.5,1003.3 803.2,1004.3Z M804.8,1004.2 C806.2,1004.9 810.1,1007.7 813.3,1008.6 C816.5,1009.6 822.2,1009.9 824.0,1010.1 M803.3,1007.3 C804.6,1008.3 808.8,1010.4 811.3,1012.9 C813.8,1015.3 817.1,1020.6 818.3,1022.1 M804.1,1017.0 C805.4,1016.2 808.7,1018.9 810.0,1020.6 C811.3,1022.2 812.7,1025.0 811.8,1026.8 C810.8,1028.7 806.0,1032.0 804.5,1031.8 C802.9,1031.6 802.3,1028.3 802.2,1025.8 C802.2,1023.3 802.8,1017.9 804.1,1017.0Z M802.7,1010.0 C802.6,1010.3 802.4,1010.7 802.1,1010.9 C801.9,1011.0 801.5,1011.1 801.3,1011.0 C801.1,1010.9 800.8,1010.7 800.7,1010.4 C800.6,1010.1 800.6,1009.7 800.7,1009.4 C800.8,1009.1 801.1,1008.7 801.3,1008.6 C801.6,1008.4 801.9,1008.3 802.2,1008.4 C802.4,1008.5 802.6,1008.7 802.7,1009.0 C802.8,1009.3 802.8,1009.7 802.7,1010.0Z M799.5,1009.9 C799.1,1012.0 797.6,1018.0 797.3,1022.3 C797.0,1026.6 797.7,1033.7 797.8,1036.0 M796.8,1009.6 C796.3,1011.6 795.3,1017.7 793.8,1021.8 C792.2,1026.0 788.7,1032.5 787.7,1034.7 M789.5,1015.1 C790.4,1016.3 788.7,1021.6 787.7,1023.9 C786.6,1026.2 784.7,1029.2 783.1,1029.0 C781.5,1028.8 778.3,1024.5 778.2,1022.5 C778.1,1020.5 780.6,1018.2 782.5,1017.0 C784.4,1015.7 788.6,1014.0 789.5,1015.1Z M795.8,1009.1 C795.7,1009.4 795.4,1009.8 795.2,1010.0 C794.9,1010.1 794.6,1010.2 794.4,1010.1 C794.1,1010.0 793.9,1009.8 793.8,1009.5 C793.7,1009.2 793.7,1008.8 793.8,1008.5 C793.9,1008.2 794.1,1007.8 794.4,1007.7 C794.6,1007.5 795.0,1007.4 795.2,1007.5 C795.4,1007.6 795.7,1007.8 795.8,1008.1 C795.9,1008.4 795.9,1008.8 795.8,1009.1Z M794.3,1006.2 C792.6,1006.7 787.8,1007.7 784.5,1009.4 C781.1,1011.1 775.7,1015.2 774.0,1016.4 M794.2,1002.8 C792.5,1003.2 787.7,1004.7 784.3,1004.9 C780.8,1005.0 775.3,1003.7 773.5,1003.5 M788.8,996.6 C788.1,998.1 783.7,998.7 781.8,998.5 C779.9,998.2 777.2,997.3 777.2,995.3 C777.1,993.3 780.0,987.4 781.5,986.3 C783.0,985.3 785.1,987.2 786.4,988.9 C787.6,990.6 789.6,995.0 788.8,996.6Z M795.4,1000.3 C795.3,1000.6 795.1,1001.0 794.8,1001.1 C794.6,1001.3 794.3,1001.3 794.0,1001.3 C793.8,1001.2 793.5,1000.9 793.4,1000.7 C793.4,1000.4 793.4,1000.0 793.5,999.6 C793.6,999.3 793.8,999.0 794.0,998.8 C794.3,998.6 794.6,998.6 794.9,998.7 C795.1,998.7 795.3,999.0 795.4,999.3 C795.5,999.5 795.5,1000.0 795.4,1000.3Z M796.4,998.1 C795.7,996.4 794.3,991.0 792.5,987.7 C790.7,984.4 786.7,979.9 785.5,978.4 M799.0,996.4 C798.5,994.6 796.5,989.5 795.9,985.4 C795.3,981.3 795.4,974.0 795.4,971.7 M803.0,987.0 C801.6,986.8 800.6,981.8 800.5,979.4 C800.3,976.9 800.7,973.3 802.2,972.3 C803.7,971.3 808.7,972.0 809.7,973.3 C810.8,974.7 809.6,978.1 808.5,980.4 C807.3,982.7 804.3,987.2 803.0,987.0Z M802.2,995.7 C802.1,996.0 801.8,996.4 801.6,996.6 C801.3,996.7 801.0,996.8 800.8,996.7 C800.5,996.6 800.3,996.4 800.2,996.1 C800.1,995.8 800.1,995.4 800.2,995.1 C800.3,994.8 800.6,994.4 800.8,994.3 C801.0,994.1 801.4,994.0 801.6,994.1 C801.8,994.2 802.1,994.4 802.2,994.7 C802.3,995.0 802.3,995.4 802.2,995.7Z M802.9,996.9 C804.1,995.3 808.0,991.0 810.3,987.3 C812.6,983.5 815.4,976.6 816.5,974.5 M804.6,999.2 C805.9,997.7 809.5,993.0 812.6,990.3 C815.7,987.7 821.3,984.4 823.0,983.2 M812.4,999.6 C812.4,997.9 816.0,994.3 817.9,993.0 C819.8,991.7 822.6,990.4 823.6,991.8 C824.6,993.2 824.8,999.5 823.9,1001.4 C823.1,1003.3 820.2,1003.5 818.3,1003.2 C816.4,1002.9 812.5,1001.3 812.4,999.6Z M806.7,1001.8 C806.6,1002.1 806.3,1002.4 806.1,1002.6 C805.9,1002.7 805.5,1002.8 805.3,1002.7 C805.0,1002.7 804.8,1002.4 804.7,1002.1 C804.6,1001.9 804.6,1001.4 804.7,1001.1 C804.8,1000.8 805.1,1000.4 805.3,1000.3 C805.5,1000.1 805.9,1000.0 806.1,1000.1 C806.3,1000.2 806.6,1000.5 806.7,1000.7 C806.8,1001.0 806.8,1001.4 806.7,1001.8Z M803.8,1051.9 C803.0,1052.2 800.5,1053.2 798.9,1053.6 C797.2,1054.1 795.6,1054.4 793.9,1054.7 C792.2,1054.9 790.6,1054.9 789.0,1054.9 C787.3,1054.8 785.7,1054.6 784.1,1054.3 C782.5,1054.0 781.0,1053.5 779.5,1052.9 C778.0,1052.3 776.5,1051.6 775.1,1050.8 C773.7,1050.0 772.4,1049.0 771.1,1047.9 C769.8,1046.9 768.6,1045.7 767.5,1044.4 C766.4,1043.1 765.3,1041.7 764.4,1040.3 C763.4,1038.8 762.6,1037.2 761.8,1035.6 C761.0,1033.9 760.4,1032.2 759.8,1030.4 C759.2,1028.6 758.8,1026.8 758.4,1024.9 C758.1,1023.0 757.8,1021.0 757.7,1019.1 C757.5,1017.1 757.5,1015.1 757.6,1013.1 C757.6,1011.0 757.8,1009.0 758.1,1007.0 C758.4,1005.0 759.1,1001.9 759.3,1000.9 M355.2,1060.8 C355.0,1061.2 354.5,1061.5 353.9,1061.5 C353.3,1061.5 352.4,1061.4 351.7,1061.1 C350.9,1060.8 350.0,1060.3 349.4,1059.8 C348.7,1059.3 348.1,1058.6 347.9,1058.0 C347.6,1057.5 347.6,1056.9 347.8,1056.6 C348.0,1056.2 348.5,1055.9 349.1,1055.9 C349.7,1055.9 350.6,1056.0 351.4,1056.3 C352.1,1056.6 353.0,1057.1 353.7,1057.6 C354.3,1058.1 354.9,1058.8 355.1,1059.4 C355.4,1059.9 355.4,1060.5 355.2,1060.8Z M364.2,1066.0 C364.0,1066.4 363.5,1066.7 362.9,1066.7 C362.3,1066.7 361.4,1066.6 360.7,1066.3 C359.9,1066.0 359.0,1065.5 358.4,1065.0 C357.7,1064.5 357.2,1063.8 356.9,1063.2 C356.6,1062.7 356.6,1062.1 356.8,1061.8 C357.0,1061.4 357.5,1061.1 358.1,1061.1 C358.7,1061.1 359.6,1061.2 360.4,1061.5 C361.1,1061.8 362.0,1062.3 362.7,1062.8 C363.3,1063.3 363.9,1064.0 364.1,1064.6 C364.4,1065.1 364.4,1065.7 364.2,1066.0Z M373.3,1071.2 C373.1,1071.6 372.5,1071.9 371.9,1071.9 C371.3,1071.9 370.4,1071.8 369.7,1071.5 C368.9,1071.2 368.0,1070.7 367.4,1070.2 C366.8,1069.7 366.2,1069.0 365.9,1068.4 C365.6,1067.9 365.6,1067.3 365.8,1067.0 C366.0,1066.6 366.5,1066.3 367.1,1066.3 C367.7,1066.3 368.6,1066.4 369.4,1066.7 C370.1,1067.0 371.0,1067.5 371.7,1068.0 C372.3,1068.5 372.9,1069.2 373.2,1069.8 C373.4,1070.3 373.5,1070.9 373.3,1071.2Z M382.3,1076.4 C382.1,1076.8 381.5,1077.1 380.9,1077.1 C380.3,1077.1 379.5,1077.0 378.7,1076.7 C377.9,1076.4 377.0,1075.9 376.4,1075.4 C375.8,1074.9 375.2,1074.2 374.9,1073.6 C374.7,1073.1 374.6,1072.5 374.8,1072.2 C375.0,1071.8 375.6,1071.5 376.1,1071.5 C376.7,1071.5 377.6,1071.6 378.4,1071.9 C379.1,1072.2 380.1,1072.7 380.7,1073.2 C381.3,1073.7 381.9,1074.4 382.2,1075.0 C382.4,1075.5 382.5,1076.1 382.3,1076.4Z M391.3,1081.6 C391.1,1082.0 390.5,1082.3 390.0,1082.3 C389.4,1082.3 388.5,1082.2 387.7,1081.9 C387.0,1081.6 386.0,1081.1 385.4,1080.6 C384.8,1080.1 384.2,1079.4 383.9,1078.8 C383.7,1078.3 383.6,1077.7 383.8,1077.4 C384.0,1077.0 384.6,1076.7 385.2,1076.7 C385.8,1076.7 386.6,1076.8 387.4,1077.1 C388.2,1077.4 389.1,1077.9 389.7,1078.4 C390.3,1078.9 390.9,1079.6 391.2,1080.2 C391.4,1080.7 391.5,1081.3 391.3,1081.6Z M400.3,1086.8 C400.1,1087.2 399.6,1087.5 399.0,1087.5 C398.4,1087.5 397.5,1087.4 396.7,1087.1 C396.0,1086.8 395.1,1086.3 394.4,1085.8 C393.8,1085.3 393.2,1084.6 392.9,1084.0 C392.7,1083.5 392.6,1082.9 392.8,1082.6 C393.0,1082.2 393.6,1081.9 394.2,1081.9 C394.8,1081.9 395.7,1082.0 396.4,1082.3 C397.2,1082.6 398.1,1083.1 398.7,1083.6 C399.3,1084.1 399.9,1084.8 400.2,1085.4 C400.5,1085.9 400.5,1086.5 400.3,1086.8Z M409.3,1092.0 C409.1,1092.4 408.6,1092.7 408.0,1092.7 C407.4,1092.7 406.5,1092.6 405.7,1092.3 C405.0,1092.0 404.1,1091.5 403.4,1091.0 C402.8,1090.5 402.2,1089.8 402.0,1089.2 C401.7,1088.7 401.7,1088.1 401.9,1087.8 C402.1,1087.4 402.6,1087.1 403.2,1087.1 C403.8,1087.1 404.7,1087.2 405.4,1087.5 C406.2,1087.8 407.1,1088.3 407.7,1088.8 C408.4,1089.3 408.9,1090.0 409.2,1090.6 C409.5,1091.1 409.5,1091.7 409.3,1092.0Z M418.3,1097.2 C418.1,1097.6 417.6,1097.9 417.0,1097.9 C416.4,1097.9 415.5,1097.8 414.7,1097.5 C414.0,1097.2 413.1,1096.7 412.4,1096.2 C411.8,1095.7 411.2,1095.0 411.0,1094.4 C410.7,1093.9 410.7,1093.3 410.9,1093.0 C411.1,1092.6 411.6,1092.3 412.2,1092.3 C412.8,1092.3 413.7,1092.4 414.4,1092.7 C415.2,1093.0 416.1,1093.5 416.7,1094.0 C417.4,1094.5 418.0,1095.2 418.2,1095.8 C418.5,1096.3 418.5,1096.9 418.3,1097.2Z M354.1,1070.9 C353.9,1071.2 353.4,1071.5 352.8,1071.5 C352.2,1071.5 351.3,1071.4 350.5,1071.1 C349.8,1070.8 348.9,1070.3 348.2,1069.7 C347.6,1069.2 347.0,1068.5 346.7,1068.0 C346.5,1067.5 346.5,1066.9 346.7,1066.5 C346.9,1066.2 347.4,1065.9 348.0,1065.9 C348.6,1065.8 349.5,1066.0 350.2,1066.3 C351.0,1066.6 351.9,1067.1 352.5,1067.6 C353.2,1068.1 353.7,1068.8 354.0,1069.4 C354.3,1069.9 354.3,1070.5 354.1,1070.9Z M362.6,1075.8 C362.4,1076.2 361.9,1076.4 361.3,1076.5 C360.7,1076.5 359.8,1076.4 359.1,1076.1 C358.3,1075.8 357.4,1075.2 356.8,1074.7 C356.1,1074.2 355.6,1073.5 355.3,1073.0 C355.0,1072.4 355.0,1071.9 355.2,1071.5 C355.4,1071.1 355.9,1070.9 356.5,1070.8 C357.1,1070.8 358.0,1071.0 358.8,1071.3 C359.5,1071.6 360.4,1072.1 361.1,1072.6 C361.7,1073.1 362.3,1073.8 362.6,1074.3 C362.8,1074.9 362.8,1075.5 362.6,1075.8Z M371.2,1080.8 C371.0,1081.2 370.5,1081.4 369.9,1081.5 C369.3,1081.5 368.4,1081.3 367.6,1081.0 C366.9,1080.7 366.0,1080.2 365.3,1079.7 C364.7,1079.2 364.1,1078.5 363.8,1078.0 C363.6,1077.4 363.6,1076.8 363.8,1076.5 C364.0,1076.1 364.5,1075.9 365.1,1075.8 C365.7,1075.8 366.6,1075.9 367.3,1076.2 C368.1,1076.5 369.0,1077.1 369.6,1077.6 C370.3,1078.1 370.8,1078.8 371.1,1079.3 C371.4,1079.9 371.4,1080.4 371.2,1080.8Z M379.7,1085.8 C379.5,1086.1 379.0,1086.4 378.4,1086.4 C377.8,1086.5 376.9,1086.3 376.2,1086.0 C375.4,1085.7 374.5,1085.2 373.9,1084.7 C373.2,1084.2 372.7,1083.5 372.4,1082.9 C372.1,1082.4 372.1,1081.8 372.3,1081.4 C372.5,1081.1 373.0,1080.8 373.6,1080.8 C374.2,1080.8 375.1,1080.9 375.9,1081.2 C376.6,1081.5 377.5,1082.0 378.2,1082.6 C378.8,1083.1 379.4,1083.8 379.7,1084.3 C379.9,1084.8 379.9,1085.4 379.7,1085.8Z M388.3,1090.8 C388.1,1091.1 387.6,1091.4 387.0,1091.4 C386.4,1091.4 385.5,1091.3 384.7,1091.0 C384.0,1090.7 383.1,1090.2 382.4,1089.6 C381.8,1089.1 381.2,1088.4 380.9,1087.9 C380.7,1087.4 380.7,1086.8 380.9,1086.4 C381.1,1086.1 381.6,1085.8 382.2,1085.8 C382.8,1085.7 383.7,1085.9 384.4,1086.2 C385.2,1086.5 386.1,1087.0 386.7,1087.5 C387.4,1088.0 387.9,1088.7 388.2,1089.3 C388.5,1089.8 388.5,1090.4 388.3,1090.8Z M396.8,1095.7 C396.6,1096.1 396.1,1096.3 395.5,1096.4 C394.9,1096.4 394.0,1096.3 393.3,1096.0 C392.5,1095.7 391.6,1095.1 391.0,1094.6 C390.3,1094.1 389.8,1093.4 389.5,1092.9 C389.2,1092.3 389.2,1091.8 389.4,1091.4 C389.6,1091.0 390.1,1090.8 390.7,1090.7 C391.3,1090.7 392.2,1090.9 393.0,1091.2 C393.7,1091.5 394.6,1092.0 395.3,1092.5 C395.9,1093.0 396.5,1093.7 396.8,1094.2 C397.0,1094.8 397.0,1095.4 396.8,1095.7Z M405.4,1100.7 C405.2,1101.1 404.7,1101.3 404.1,1101.4 C403.5,1101.4 402.6,1101.2 401.8,1100.9 C401.1,1100.6 400.2,1100.1 399.5,1099.6 C398.9,1099.1 398.3,1098.4 398.0,1097.9 C397.8,1097.3 397.8,1096.7 398.0,1096.4 C398.2,1096.0 398.7,1095.8 399.3,1095.7 C399.9,1095.7 400.8,1095.8 401.5,1096.1 C402.3,1096.4 403.2,1097.0 403.8,1097.5 C404.5,1098.0 405.0,1098.7 405.3,1099.2 C405.6,1099.8 405.6,1100.3 405.4,1100.7Z M413.9,1105.7 C413.7,1106.0 413.2,1106.3 412.6,1106.3 C412.0,1106.4 411.1,1106.2 410.4,1105.9 C409.6,1105.6 408.7,1105.1 408.1,1104.6 C407.4,1104.1 406.9,1103.4 406.6,1102.8 C406.3,1102.3 406.3,1101.7 406.5,1101.3 C406.7,1101.0 407.2,1100.7 407.8,1100.7 C408.4,1100.7 409.3,1100.8 410.1,1101.1 C410.8,1101.4 411.7,1101.9 412.4,1102.5 C413.0,1103.0 413.6,1103.7 413.9,1104.2 C414.1,1104.7 414.1,1105.3 413.9,1105.7Z"/>
<path d="M513.6,1045.7 C516.9,1042.4 531.7,1031.6 539.2,1029.1 C546.7,1026.6 555.0,1029.6 558.7,1030.6 C562.5,1031.6 565.0,1032.4 561.7,1035.1 C558.5,1037.9 546.2,1044.9 539.2,1047.2 C532.2,1049.4 523.9,1048.9 519.7,1048.7 C515.4,1048.4 510.4,1048.9 513.6,1045.7Z" fill="#000" stroke="#ccc" stroke-width="1.4"/>
<path d="M522.7,1041.2 C524.9,1039.2 534.2,1033.5 539.2,1032.1 C544.2,1030.7 552.5,1031.0 552.7,1032.7 C553.0,1034.5 545.2,1040.8 540.7,1042.7 C536.2,1044.6 528.7,1044.4 525.7,1044.2 C522.7,1043.9 520.4,1043.2 522.7,1041.2Z" fill="#a8a8a8" stroke="#ddd" stroke-width="0.8"/>
<path d="M558.7,1062.2 C560.2,1060.2 568.0,1056.9 572.3,1056.2 C576.5,1055.4 582.0,1056.4 584.3,1057.7 C586.5,1058.9 587.3,1061.7 585.8,1063.7 C584.3,1065.7 579.0,1069.0 575.3,1069.7 C571.5,1070.5 566.0,1069.5 563.2,1068.2 C560.5,1067.0 557.2,1064.2 558.7,1062.2Z" fill="#fff" stroke="#bbb" stroke-width="1.2"/>
<path d="M563.8,1063.7 C564.9,1062.5 569.9,1059.8 572.9,1059.2 C575.8,1058.6 581.0,1059.0 581.3,1060.1 C581.6,1061.2 577.2,1064.8 574.7,1065.8 C572.2,1066.8 568.0,1066.5 566.2,1066.1 C564.4,1065.8 562.7,1064.9 563.8,1063.7Z" fill="#999" stroke="#666" stroke-width="0.8"/>
<path d="M611.3,999.1 C611.8,996.3 613.8,990.8 617.3,988.6 C620.8,986.3 627.4,984.8 632.4,985.5 C637.4,986.3 644.1,990.3 647.4,993.1 C650.7,995.8 652.4,999.6 651.9,1002.1 C651.4,1004.6 648.7,1006.8 644.4,1008.1 C640.1,1009.3 631.4,1010.1 626.4,1009.6 C621.3,1009.1 616.8,1006.8 614.3,1005.1 C611.8,1003.3 610.8,1001.8 611.3,999.1Z" fill="none" stroke="#d0d0d0" stroke-width="2.6"/>
<path d="M611.3,999.1 C611.8,996.3 613.8,990.8 617.3,988.6 C620.8,986.3 627.4,984.8 632.4,985.5 C637.4,986.3 644.1,990.3 647.4,993.1 C650.7,995.8 652.4,999.6 651.9,1002.1 C651.4,1004.6 648.7,1006.8 644.4,1008.1 C640.1,1009.3 631.4,1010.1 626.4,1009.6 C621.3,1009.1 616.8,1006.8 614.3,1005.1 C611.8,1003.3 610.8,1001.8 611.3,999.1Z" fill="none" stroke="#444" stroke-width="0.7"/>
<path d="M662.5,987.0 L686.0,975.0" stroke="#e0e0e0" stroke-width="5" stroke-linecap="round" fill="none"/>
<path d="M662.5,987.0 L686.0,975.0" stroke="#777" stroke-width="3" stroke-linecap="round" stroke-dasharray="2 2" fill="none"/>
<path d="M662.5,987.0 L686.0,975.0" stroke="#fff" stroke-width="1.4" stroke-linecap="round" fill="none"/>
<path d="M762.0,936.0 L778.0,926.5" stroke="#e0e0e0" stroke-width="5" stroke-linecap="round" fill="none"/>
<path d="M762.0,936.0 L778.0,926.5" stroke="#777" stroke-width="3" stroke-linecap="round" stroke-dasharray="2 2" fill="none"/>
<path d="M762.0,936.0 L778.0,926.5" stroke="#fff" stroke-width="1.4" stroke-linecap="round" fill="none"/>
<path d="M399.7,970.1 L416.2,958.0 L418.6,959.5 L401.8,972.5Z" fill="#aaa" stroke="#888" stroke-width="0.8"/>
</g>
<g id="fasteners">
<g transform="translate(570.2 115.8)"><ellipse class="pw" cx="0" cy="0" rx="16.5" ry="10.8" style="stroke-width:1.6"/><ellipse class="t" cx="-1" cy="1.5" rx="10.2" ry="6.3"/><ellipse class="t" cx="-0.3" cy="3" rx="6.8" ry="4"/><path class="pw" d="M-3,10.2 L-3,13.5 L3,13.5 L3,10.2"/></g>
<g transform="translate(812.8 314.1)"><ellipse class="pw" cx="0" cy="0" rx="16.5" ry="10.8" style="stroke-width:1.6"/><ellipse class="t" cx="-1" cy="1.5" rx="10.2" ry="6.3"/><ellipse class="t" cx="-0.3" cy="3" rx="6.8" ry="4"/><path class="pw" d="M-3,10.2 L-3,13.5 L3,13.5 L3,10.2"/></g>
<g transform="translate(350.1 413.8) scale(0.77)"><ellipse class="pw" cx="0" cy="0" rx="16.5" ry="10.8" style="stroke-width:1.6"/><ellipse class="t" cx="-1" cy="1.5" rx="10.2" ry="6.3"/><ellipse class="t" cx="-0.3" cy="3" rx="6.8" ry="4"/><path class="pw" d="M-3,10.2 L-3,13.5 L3,13.5 L3,10.2"/></g>
<g transform="translate(461.7 737.1) scale(0.79)"><ellipse class="pw" cx="0" cy="0" rx="16.5" ry="10.8" style="stroke-width:1.6"/><ellipse class="t" cx="-1" cy="1.5" rx="10.2" ry="6.3"/><ellipse class="t" cx="-0.3" cy="3" rx="6.8" ry="4"/><path class="pw" d="M-3,10.2 L-3,13.5 L3,13.5 L3,10.2"/></g>
<g transform="translate(492.5 117.3)"><path class="pw" d="M-2.4,0 L-2.4,-13.5 Q-2.4,-15 0,-15 Q2.4,-15 2.4,-13.5 L2.4,0"/><path class="pw" d="M-3.8,2 L-3.8,5 Q0,7 3.8,5 L3.8,2"/><ellipse class="pw" cx="0" cy="0" rx="6.3" ry="3.3" style="stroke-width:1.5"/><path class="pw" d="M-2.4,-0.5 L-2.4,-6 M2.4,-0.5 L2.4,-6 M-2.4,-0.5 Q0,0.8 2.4,-0.5" style="stroke-width:1"/></g>
<g transform="translate(738.3 290.6)"><path class="pw" d="M-2.4,0 L-2.4,-13.5 Q-2.4,-15 0,-15 Q2.4,-15 2.4,-13.5 L2.4,0"/><path class="pw" d="M-3.8,2 L-3.8,5 Q0,7 3.8,5 L3.8,2"/><ellipse class="pw" cx="0" cy="0" rx="6.3" ry="3.3" style="stroke-width:1.5"/><path class="pw" d="M-2.4,-0.5 L-2.4,-6 M2.4,-0.5 L2.4,-6 M-2.4,-0.5 Q0,0.8 2.4,-0.5" style="stroke-width:1"/></g>
<g transform="translate(716.9 582.5)"><path class="pw" d="M-2.9,0 L-2.9,-14 Q-2.9,-15.5 0,-15.5 Q2.9,-15.5 2.9,-14 L2.9,0"/><path class="pw" d="M-6,3.5 L-6,7.5 Q0,10.5 6,7.5 L6,3.5"/><ellipse class="pw" cx="0" cy="0" rx="11" ry="6.2" style="stroke-width:1.8"/><path class="pw" d="M-2.9,-0.5 L-2.9,-5 M2.9,-0.5 L2.9,-5 M-2.9,-0.5 Q0,1.2 2.9,-0.5" style="stroke-width:1"/></g>
<g transform="translate(647 185.7)"><path class="pw" d="M-2.2,0 L-2.2,-13 Q-2.2,-14.5 0,-14.5 Q2.2,-14.5 2.2,-13 L2.2,0"/><path class="pw" d="M-2.6,2 L-2.6,9 L2.6,9 L2.6,2"/><path class="t" d="M-2.6,4.5 L2.6,4.5 M-2.6,6.5 L2.6,6.5"/><ellipse class="pw" cx="0" cy="0" rx="6.8" ry="3" style="stroke-width:1.5"/><path class="pw" d="M-2.2,-0.5 L-2.2,-6 M2.2,-0.5 L2.2,-6 M-2.2,-0.5 Q0,0.8 2.2,-0.5" style="stroke-width:1"/></g>
<g transform="translate(703.2 214.8)"><path class="pw" d="M-2.2,0 L-2.2,-13 Q-2.2,-14.5 0,-14.5 Q2.2,-14.5 2.2,-13 L2.2,0"/><path class="pw" d="M-2.6,2 L-2.6,9 L2.6,9 L2.6,2"/><path class="t" d="M-2.6,4.5 L2.6,4.5 M-2.6,6.5 L2.6,6.5"/><ellipse class="pw" cx="0" cy="0" rx="6.8" ry="3" style="stroke-width:1.5"/><path class="pw" d="M-2.2,-0.5 L-2.2,-6 M2.2,-0.5 L2.2,-6 M-2.2,-0.5 Q0,0.8 2.2,-0.5" style="stroke-width:1"/></g>
<g transform="translate(560 610.7)"><path class="pw" d="M-2.5,0 L-2.5,-11.5 Q-2.5,-13 0,-13 Q2.5,-13 2.5,-11.5 L2.5,0"/><path class="t" d="M-1,-12.5 L-1,-7 M1,-12.5 L1,-7"/><path class="pw" d="M-5.5,3 L-5.5,7 Q0,10 5.5,7 L5.5,3"/><ellipse class="pw" cx="0" cy="0" rx="9.6" ry="5" style="stroke-width:1.7"/><path class="pw" d="M-2.5,-0.5 L-2.5,-5 M2.5,-0.5 L2.5,-5 M-2.5,-0.5 Q0,1 2.5,-0.5" style="stroke-width:1"/></g>
<g transform="translate(391.4 778.2)"><path class="pw" d="M-3.2,0 L-3.2,-12 Q-3.2,-13.5 0,-13.5 Q3.2,-13.5 3.2,-12 L3.2,0"/><path class="pw" d="M-6,3 L-6,6.5 Q0,9.5 6,6.5 L6,3"/><ellipse class="pw" cx="0" cy="0" rx="10.7" ry="5.5" style="stroke-width:1.7"/><path class="pw" d="M-3.2,-0.5 L-3.2,-5 M3.2,-0.5 L3.2,-5 M-3.2,-0.5 Q0,1.2 3.2,-0.5" style="stroke-width:1"/></g>
<g transform="translate(486.9 481.7)"><ellipse class="pw" cx="0" cy="0" rx="13.2" ry="8.1" style="stroke-width:1.6"/><path class="t" d="M0,2 L-11,-3 M0,2 L-7,-6 M0,2 L-2,-7.5 M0,2 L4,-7 M0,2 L9,-5 M0,2 L12,-1 M0,2 L-11,3 M0,2 L10,4 M-6,5 Q0,1 6,5"/></g>
<g transform="translate(337.6 607.5)"><ellipse class="pw" cx="0" cy="0" rx="13.2" ry="8.1" style="stroke-width:1.6"/><path class="t" d="M0,2 L-11,-3 M0,2 L-7,-6 M0,2 L-2,-7.5 M0,2 L4,-7 M0,2 L9,-5 M0,2 L12,-1 M0,2 L-11,3 M0,2 L10,4 M-6,5 Q0,1 6,5"/></g>
<g transform="translate(145.1 481.9)"><path class="pw" d="M-16,-9.5 Q-17.2,-7 -15.3,-4.8 L-6,0 L-2.8,-5.2 L-12,-10.4 Q-14.6,-11.5 -16,-9.5Z"/><ellipse class="pw" cx="0" cy="0" rx="8.5" ry="10.7" transform="rotate(12)" style="stroke-width:1.6"/><ellipse class="t" cx="0.9" cy="0.4" rx="6.7" ry="8.7" transform="rotate(12)"/><path class="t" d="M-2.8,-2.4 L0,-5.2 L4.3,-3.7 L4.6,1.9 L1.3,5 L-2.4,3.1 Z M-2.4,3.1 L0,0 L4.3,-3.7 M0,0 L0,-5.2"/></g>
<g transform="translate(163 788.7)"><path class="pw" d="M-16,-9.5 Q-17.2,-7 -15.3,-4.8 L-6,0 L-2.8,-5.2 L-12,-10.4 Q-14.6,-11.5 -16,-9.5Z"/><ellipse class="pw" cx="0" cy="0" rx="8.5" ry="10.7" transform="rotate(12)" style="stroke-width:1.6"/><ellipse class="t" cx="0.9" cy="0.4" rx="6.7" ry="8.7" transform="rotate(12)"/><path class="t" d="M-2.8,-2.4 L0,-5.2 L4.3,-3.7 L4.6,1.9 L1.3,5 L-2.4,3.1 Z M-2.4,3.1 L0,0 L4.3,-3.7 M0,0 L0,-5.2"/></g>
<g transform="translate(233.5 679.5)"><ellipse class="pw" cx="0" cy="0" rx="8.6" ry="11.4" transform="rotate(8)" style="stroke-width:1.6"/><path class="pw" d="M-0.9,-3 Q-2.4,0 0,2.2 L11.7,8.1 L16.3,8.7 L17.6,5.9 L14.4,2.6 L3.3,-3.3 Q0.55,-4.4 -0.9,-3 Z"/><path class="t" d="M11.7,8.1 L14.4,2.6"/></g>
</g>
<g id="leaders" class="ln">
<path d="M57.8,40 V59.5 M344.3,51.2 H378 M254.9,117.8 H276 M68.3,148.1 V189 M118.4,138.3 V168 M156.8,224.5 V256.7 M49.3,275.5 V308 M225.4,318 V333 M334.3,308 V334.6 M349.7,372 V402 M364.9,413.8 H385 M143.3,496.2 V528 M85,448.8 L123.4,470.6 M206,563.6 H261.9 M338.5,549 V594 M285.6,609.9 H322.3 M495.5,363 V381.5 M486.6,423 V468.7 M434.8,483.8 H471.7 M678.8,426 V476.2 M717,517 V560 M717.3,593.2 V630 M459,577.3 H501.4 M560.4,585 V598 M571.2,610.3 H607.6 M230.5,691.8 V728 M254.5,689.8 L290.1,710.2 M310.5,731.9 V788 M391.4,715 V755.5 M404.4,778.8 H441.6 M462.7,681 V724.8 M477.9,737.1 H515 M85.9,762.3 V802.6 M160.6,803.2 V845 M226.3,965 V994.4 M575.3,37 H631.9 M492.5,77 V97.8 M451,116.3 H483.2 M570,79 V100 M570.2,132.3 V150.7 M644.3,91 V109.1 M647,142 V166 M647,194 V206.5 M723,128.5 V152 M703.2,172 V194 M665.7,215.9 H695.5 M805.4,146 V196.8 M738.3,250 V272 M738.3,300.8 V343 M812.8,255 V298 M812.8,331.3 V373 M439,178.8 H468.8 M812.6,588.5 V613.4 M749,712.9 H774.8 M621.9,659.3 V682.2"/>
<path d="M92.7,749 L113,760.7" /><path d="M113,760.7 L147.3,780.4" stroke-dasharray="5 3.5"/>
</g>
<g id="dots" class="dot">
<circle cx="57.8" cy="59.5" r="2.8"/><circle cx="344.3" cy="51.2" r="2.8"/><circle cx="254.9" cy="117.8" r="2.8"/><circle cx="68.3" cy="148.1" r="2.8"/><circle cx="118.4" cy="138.3" r="2.8"/><circle cx="156.8" cy="256.7" r="2.8"/><circle cx="49.3" cy="275.5" r="2.8"/><circle cx="225.4" cy="333.2" r="2.8"/><circle cx="334.3" cy="334.6" r="2.8"/><circle cx="364.9" cy="413.8" r="2.8"/><circle cx="143.3" cy="496.2" r="2.8"/><circle cx="261.9" cy="563.6" r="2.8"/><circle cx="322.3" cy="609.9" r="2.8"/><circle cx="495.5" cy="381.5" r="2.8"/><circle cx="471.7" cy="483.8" r="2.8"/><circle cx="678.8" cy="476.2" r="2.8"/><circle cx="717.3" cy="593.2" r="2.8"/><circle cx="501.4" cy="577.3" r="2.8"/><circle cx="571.2" cy="610.3" r="2.8"/><circle cx="230.5" cy="691.8" r="2.8"/><circle cx="310.5" cy="731.9" r="2.8"/><circle cx="404.4" cy="778.8" r="2.8"/><circle cx="477.9" cy="737.1" r="2.8"/><circle cx="85.9" cy="762.3" r="2.8"/><circle cx="160.6" cy="803.2" r="2.8"/><circle cx="226.3" cy="965" r="2.8"/><circle cx="575.3" cy="37" r="2.8"/><circle cx="483.2" cy="116.3" r="2.8"/><circle cx="570.2" cy="132.3" r="2.8"/><circle cx="644.3" cy="109.1" r="2.8"/><circle cx="647" cy="194.5" r="2.6"/><circle cx="723" cy="152" r="2.8"/><circle cx="695.5" cy="215.9" r="2.8"/><circle cx="805.4" cy="196.8" r="2.8"/><circle cx="738.3" cy="300.8" r="2.8"/><circle cx="812.8" cy="331.3" r="2.8"/><circle cx="468.8" cy="178.5" r="2.8"/><circle cx="812.6" cy="613.4" r="2.8"/><circle cx="774.8" cy="712.9" r="2.8"/><circle cx="621.9" cy="659.3" r="2.8"/>
</g>
<g id="labels" class="lb" transform="translate(0 0.8)">
<text x="21" y="36.5">5K286C</text>
<text x="380" y="61">5K286E</text>
<text x="278" y="127">5K286D</text>
<text x="98.5" y="184">HB5</text>
<text x="47.5" y="206">HS1</text>
<text x="116" y="220">&lt;21024A</text>
<text x="11" y="326">&lt;21024C</text>
<text x="189.5" y="315">5K286H</text>
<text x="299.5" y="304">5K286B</text>
<text x="388" y="424">HN1</text>
<text x="395" y="492.5">HC1</text>
<text x="123" y="544">HS1</text>
<text x="144" y="574">6775A</text>
<text x="635.5" y="46.5">6775C</text>
<text x="619.5" y="86">6775G</text>
<text x="697.5" y="125">6775G</text>
<text x="780.5" y="141">6775C</text>
<text x="410" y="126">HB1</text>
<text x="549.5" y="170">HN1</text>
<text x="627" y="226">HS2</text>
<text x="368.5" y="189">5K286F</text>
<text x="468" y="359">6775B</text>
<text x="718.5" y="359">HB1</text>
<text x="792" y="389">HN1</text>
<text x="653" y="421">6775E</text>
<text x="246" y="619">HC1</text>
<text x="210" y="750">HS1</text>
<text x="273.5" y="808.5">5K286A</text>
<text x="396" y="587.5">6775D</text>
<text x="609" y="621.2">HB2</text>
<text x="698" y="650.7">HB1</text>
<text x="779" y="584">5K286J</text>
<text x="579" y="701.5">&lt;21024B</text>
<text x="674" y="719">5K286G</text>
<text x="518" y="747">HN1</text>
<text x="444" y="787.5">HB4</text>
<text x="56.5" y="823">6775F</text>
<text x="140.5" y="861">HB3</text>
<text x="204.5" y="1013.5">7081</text>
</g>
<g id="wm" style="mix-blend-mode:multiply">
<text x="63.3 135 200.3 277.2 350.8 425.5 470.5 503" y="623" font-family="Liberation Sans, Arial, sans-serif" font-size="127" fill="#fcdede" stroke="#fcdede" stroke-width="3.5" stroke-linejoin="round">scuderia</text>
<g font-family="Liberation Sans, Arial, sans-serif" font-size="38" font-weight="bold" fill="#ececec" text-anchor="middle">
<text x="74" y="675">c</text><text x="139.5" y="675">a</text><text x="201" y="675">r</text>
<text x="325" y="675">p</text><text x="387" y="675">a</text><text x="447" y="675">r</text><text x="503" y="675">t</text><text x="560" y="675">s</text>
</g>
</g>
<g id="flag" fill="#e3e3e3" style="mix-blend-mode:multiply">
<path d="M615.0,518.0 L641.0,528.0 L651.0,550.0 L627.0,542.4Z M667.0,536.0 L692.0,545.0 L703.0,563.5 L678.0,557.0Z M716.0,553.0 L738.0,560.0 L748.0,577.0 L727.0,570.0Z M603.0,535.0 L627.0,542.4 L626.7,567.5 L598.0,561.0Z M651.0,550.0 L678.0,557.0 L688.2,582.9 L662.3,575.3Z M703.0,563.5 L727.0,570.0 L737.0,595.0 L713.3,588.6Z M748.0,577.0 L767.0,584.0 L775.0,607.0 L757.0,601.0Z M626.7,567.5 L662.3,575.3 L665.1,600.7 L634.8,593.7Z M688.2,582.9 L713.3,588.6 L723.8,612.0 L694.7,608.0Z M737.0,595.0 L757.0,601.0 L767.0,624.0 L747.0,618.0Z M775.0,607.0 L790.0,612.0 L798.0,634.0 L784.0,629.0Z M599.2,588.6 L634.8,593.7 L640.5,625.0 L609.7,620.9Z M665.1,600.7 L694.7,608.0 L705.2,632.6 L674.8,629.8Z M723.8,612.0 L747.0,618.0 L758.0,643.0 L734.3,637.1Z M767.0,624.0 L784.0,629.0 L793.0,653.0 L777.0,648.0Z M640.5,625.0 L674.8,629.8 L684.2,664.6 L648.6,663.0Z M705.2,632.6 L734.3,637.1 L742.0,672.0 L713.3,667.9Z M758.0,643.0 L777.0,648.0 L785.0,683.0 L766.0,678.0Z "/>
</g>
</svg>
</body></html>
